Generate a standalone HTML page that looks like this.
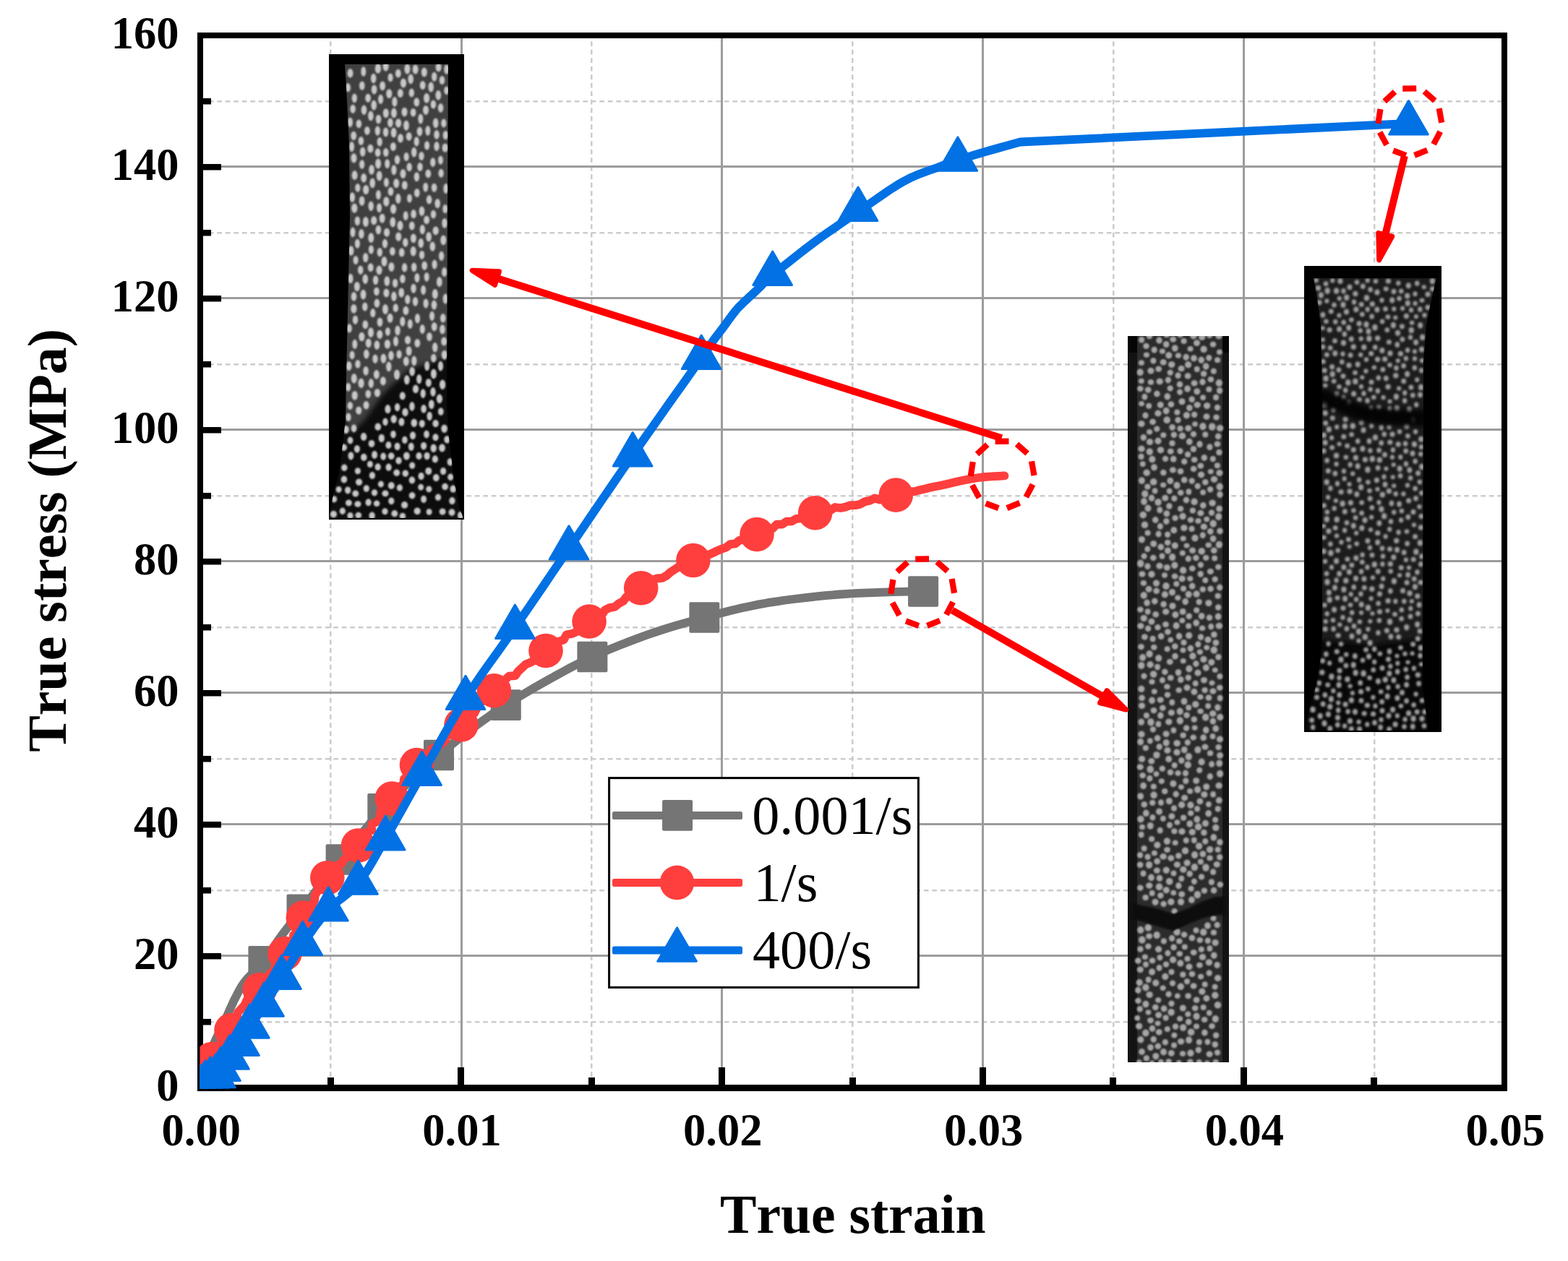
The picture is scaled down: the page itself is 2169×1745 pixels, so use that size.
<!DOCTYPE html>
<html lang="en"><head><meta charset="utf-8"><title>True stress - true strain</title>
<style>html,body{margin:0;padding:0;background:#fff}body{width:2169px;height:1745px;overflow:hidden}svg{display:block}text{font-family:"Liberation Serif",serif;font-kerning:none}</style>
</head><body>
<svg width="2169" height="1745" viewBox="0 0 2169 1745" role="img" aria-label="True stress versus true strain at three strain rates">
<defs>
<clipPath id="plot"><rect x="276.5" y="48.5" width="1805" height="1458"/></clipPath>
<filter id="b1" x="-5%" y="-5%" width="110%" height="110%"><feGaussianBlur stdDeviation="1.1"/></filter>
<filter id="b2" x="-5%" y="-5%" width="110%" height="110%"><feGaussianBlur stdDeviation="0.8"/></filter>
<filter id="b3" x="-5%" y="-5%" width="110%" height="110%"><feGaussianBlur stdDeviation="1.4"/></filter>
<filter id="b4" x="-20%" y="-50%" width="140%" height="200%"><feGaussianBlur stdDeviation="3.5"/></filter>
</defs>
<rect width="2169" height="1745" fill="#fff"/>
<g fill="none" stroke="#cccccc" stroke-width="2.5" stroke-dasharray="6.7 4.8">
<line x1="277.3" y1="1414.25" x2="2081.0" y2="1414.25"/>
<line x1="277.3" y1="1232.25" x2="2081.0" y2="1232.25"/>
<line x1="277.3" y1="1050.25" x2="2081.0" y2="1050.25"/>
<line x1="277.3" y1="868.25" x2="2081.0" y2="868.25"/>
<line x1="277.3" y1="686.25" x2="2081.0" y2="686.25"/>
<line x1="277.3" y1="504.25" x2="2081.0" y2="504.25"/>
<line x1="277.3" y1="322.25" x2="2081.0" y2="322.25"/>
<line x1="277.3" y1="140.25" x2="2081.0" y2="140.25"/>
<line x1="457.25" y1="45.7" x2="457.25" y2="1505.0"/>
<line x1="818.25" y1="45.7" x2="818.25" y2="1505.0"/>
<line x1="1179.25" y1="45.7" x2="1179.25" y2="1505.0"/>
<line x1="1540.25" y1="45.7" x2="1540.25" y2="1505.0"/>
<line x1="1901.25" y1="45.7" x2="1901.25" y2="1505.0"/>
</g>
<g fill="none" stroke="#9c9c9c" stroke-width="3" shape-rendering="crispEdges">
<line x1="277.0" y1="1322.5" x2="2081.0" y2="1322.5"/>
<line x1="277.0" y1="1140.5" x2="2081.0" y2="1140.5"/>
<line x1="277.0" y1="958.5" x2="2081.0" y2="958.5"/>
<line x1="277.0" y1="776.5" x2="2081.0" y2="776.5"/>
<line x1="277.0" y1="594.5" x2="2081.0" y2="594.5"/>
<line x1="277.0" y1="412.5" x2="2081.0" y2="412.5"/>
<line x1="277.0" y1="230.5" x2="2081.0" y2="230.5"/>
<line x1="638.5" y1="49.0" x2="638.5" y2="1505.0"/>
<line x1="998.5" y1="49.0" x2="998.5" y2="1505.0"/>
<line x1="1359.5" y1="49.0" x2="1359.5" y2="1505.0"/>
<line x1="1720.5" y1="49.0" x2="1720.5" y2="1505.0"/>
</g>
<g fill="none" stroke="#000" stroke-width="8">
<path d="M277.0 1505.5 V49.0 H2081.0 V1505.5"/>
<line x1="277.0" y1="1414.2" x2="292.0" y2="1414.2" stroke-width="8.5"/>
<line x1="277.0" y1="1323.2" x2="306.0" y2="1323.2" stroke-width="8.5"/>
<line x1="277.0" y1="1232.2" x2="292.0" y2="1232.2" stroke-width="8.5"/>
<line x1="277.0" y1="1141.2" x2="306.0" y2="1141.2" stroke-width="8.5"/>
<line x1="277.0" y1="1050.2" x2="292.0" y2="1050.2" stroke-width="8.5"/>
<line x1="277.0" y1="959.2" x2="306.0" y2="959.2" stroke-width="8.5"/>
<line x1="277.0" y1="868.2" x2="292.0" y2="868.2" stroke-width="8.5"/>
<line x1="277.0" y1="777.2" x2="306.0" y2="777.2" stroke-width="8.5"/>
<line x1="277.0" y1="686.2" x2="292.0" y2="686.2" stroke-width="8.5"/>
<line x1="277.0" y1="595.2" x2="306.0" y2="595.2" stroke-width="8.5"/>
<line x1="277.0" y1="504.2" x2="292.0" y2="504.2" stroke-width="8.5"/>
<line x1="277.0" y1="413.2" x2="306.0" y2="413.2" stroke-width="8.5"/>
<line x1="277.0" y1="322.2" x2="292.0" y2="322.2" stroke-width="8.5"/>
<line x1="277.0" y1="231.2" x2="306.0" y2="231.2" stroke-width="8.5"/>
<line x1="277.0" y1="140.2" x2="292.0" y2="140.2" stroke-width="8.5"/>
</g>
<g fill="#000">
<rect x="273" y="1501" width="1812" height="9"/>
<rect x="453.0" y="1491.0" width="9" height="14.0"/>
<rect x="633.0" y="1477.0" width="9" height="28.0"/>
<rect x="814.0" y="1491.0" width="9" height="14.0"/>
<rect x="994.0" y="1477.0" width="9" height="28.0"/>
<rect x="1175.0" y="1491.0" width="9" height="14.0"/>
<rect x="1355.0" y="1477.0" width="9" height="28.0"/>
<rect x="1535.0" y="1491.0" width="9" height="14.0"/>
<rect x="1716.0" y="1477.0" width="9" height="28.0"/>
<rect x="1896.0" y="1491.0" width="9" height="14.0"/>
</g>
<g clip-path="url(#plot)">
<path d="M277.0 1505.0 L278.4 1499.3 L279.8 1493.4 L281.1 1487.6 L282.5 1481.8 L284.0 1476.3 L285.5 1471.0 L287.1 1466.2 L288.6 1461.8 L290.2 1457.6 L292.0 1453.3 L293.9 1448.9 L296.0 1444.0 L298.4 1438.5 L301.2 1432.7 L304.1 1426.6 L307.0 1420.4 L309.9 1414.5 L312.5 1409.0 L314.9 1403.9 L317.1 1399.0 L319.2 1394.2 L321.3 1389.7 L323.3 1385.3 L325.5 1381.0 L327.6 1376.9 L329.5 1373.1 L331.5 1369.5 L333.6 1365.8 L336.1 1362.0 L339.0 1358.0 L342.5 1353.8 L346.6 1349.5 L350.9 1345.0 L355.5 1340.4 L360.0 1335.6 L364.4 1330.4 L368.6 1324.8 L372.8 1318.9 L377.1 1312.7 L381.3 1306.4 L385.6 1300.1 L390.0 1294.0 L394.5 1288.0 L399.1 1282.1 L403.7 1276.2 L408.3 1270.4 L413.0 1264.5 L417.5 1258.7 L422.0 1252.9 L426.4 1247.1 L430.7 1241.3 L435.1 1235.5 L439.5 1229.8 L444.0 1224.0 L448.5 1218.2 L453.1 1212.5 L457.7 1206.8 L462.3 1201.1 L466.9 1195.3 L471.6 1189.5 L476.3 1183.6 L481.0 1177.7 L485.7 1171.8 L490.4 1165.8 L495.2 1159.9 L500.0 1154.0 L504.7 1148.2 L509.4 1142.5 L514.1 1136.8 L518.9 1131.1 L523.9 1125.3 L529.3 1119.3 L535.1 1113.1 L541.2 1106.7 L547.5 1100.2 L554.0 1093.7 L560.5 1087.3 L567.0 1081.0 L573.5 1074.9 L580.0 1068.8 L586.5 1062.9 L593.2 1056.9 L600.0 1051.0 L607.0 1045.0 L614.2 1039.0 L621.5 1032.9 L629.0 1026.8 L636.6 1020.8 L644.3 1014.8 L652.0 1009.0 L659.7 1003.3 L667.3 997.7 L675.1 992.2 L683.0 986.7 L691.2 981.2 L699.8 975.6 L708.9 969.9 L718.3 964.1 L728.0 958.2 L738.0 952.4 L748.0 946.6 L758.0 941.0 L767.9 935.5 L777.7 930.1 L787.5 924.8 L797.7 919.5 L808.2 914.2 L819.4 909.0 L831.3 903.7 L843.7 898.4 L856.6 893.1 L869.8 888.0 L883.0 883.0 L896.0 878.3 L909.0 873.9 L922.1 869.6 L935.3 865.6 L948.4 861.8 L961.5 858.1 L974.4 854.5 L987.2 851.1 L999.9 847.7 L1012.5 844.6 L1025.0 841.6 L1037.4 838.9 L1049.7 836.4 L1061.9 834.2 L1074.2 832.3 L1086.3 830.5 L1098.2 829.0 L1109.8 827.6 L1121.0 826.3 L1131.6 825.1 L1141.5 824.1 L1151.1 823.3 L1160.8 822.5 L1170.8 821.8 L1181.6 821.2 L1193.8 820.6 L1207.4 820.1 L1221.4 819.6 L1234.8 819.2 L1246.7 818.9 L1256.2 818.6 L1262.8 818.4 L1267.1 818.4 L1270.0 818.4 L1272.1 818.4 L1274.2 818.5 L1277.1 818.5" fill="none" stroke="#757575" stroke-width="11.8" stroke-linejoin="round" stroke-linecap="round"/>
<g fill="#757575">
<rect x="343.4" y="1309.1" width="42" height="42.6" rx="2"/>
<rect x="396.5" y="1237.4" width="42" height="42.6" rx="2"/>
<rect x="450.6" y="1168.2" width="42" height="42.6" rx="2"/>
<rect x="508.3" y="1098.0" width="42" height="42.6" rx="2"/>
<rect x="586.0" y="1023.7" width="42" height="42.6" rx="2"/>
<rect x="678.8" y="954.3" width="42" height="42.6" rx="2"/>
<rect x="798.4" y="887.7" width="42" height="42.6" rx="2"/>
<rect x="953.4" y="833.2" width="42" height="42.6" rx="2"/>
<rect x="1256.1" y="797.2" width="42" height="42.6" rx="2"/>
</g>
<path d="M277.0 1500.0 L279.8 1493.6 L282.6 1487.2 L285.9 1481.0 L289.4 1474.9 L292.9 1468.9 L297.0 1463.3 L299.9 1457.0 L304.7 1451.8 L304.9 1443.4 L310.8 1439.0 L316.9 1434.6 L319.4 1427.9 L324.0 1422.4 L323.1 1414.2 L327.2 1408.3 L328.9 1401.3 L333.8 1396.0 L338.4 1390.8 L341.5 1383.8 L347.4 1380.0 L352.5 1375.3 L359.7 1372.3 L363.5 1366.3 L365.2 1358.8 L372.0 1355.1 L373.2 1347.4 L379.3 1343.1 L381.1 1335.9 L384.4 1329.7 L392.0 1326.2 L392.7 1318.5 L396.2 1312.5 L403.1 1308.1 L405.7 1301.6 L406.0 1294.0 L412.2 1289.2 L413.3 1281.9 L417.1 1276.1 L418.3 1268.7 L425.0 1264.5 L427.3 1257.7 L431.9 1252.3 L435.0 1246.0 L435.9 1238.4 L439.8 1232.6 L442.7 1226.1 L446.5 1220.2 L450.3 1214.3 L455.7 1209.5 L461.6 1205.3 L464.3 1198.1 L471.8 1195.7 L475.6 1189.6 L480.6 1184.7 L487.4 1181.5 L490.9 1175.2 L494.8 1169.4 L499.8 1164.4 L504.9 1159.5 L506.4 1151.9 L514.3 1149.0 L514.3 1140.4 L521.5 1136.9 L525.9 1131.4 L526.3 1123.2 L533.6 1119.8 L535.8 1112.8 L540.8 1107.7 L542.4 1100.3 L546.5 1094.7 L551.0 1089.3 L558.2 1085.7 L558.9 1077.7 L565.4 1073.7 L570.4 1068.9 L574.9 1063.7 L577.4 1056.4 L582.4 1051.5 L588.1 1047.3 L594.2 1043.6 L597.1 1036.3 L604.6 1034.2 L610.0 1029.9 L615.5 1025.5 L618.0 1017.7 L626.4 1016.7 L628.7 1008.7 L634.7 1004.9 L640.7 1001.1 L646.8 997.2 L649.4 990.1 L656.3 986.9 L659.5 980.3 L663.3 974.3 L668.1 969.2 L672.5 963.6 L677.2 958.4 L682.7 953.9 L689.9 951.5 L696.2 948.3 L699.0 940.5 L704.1 935.7 L712.6 935.2 L716.7 929.1 L721.9 924.3 L727.0 919.4 L733.7 916.7 L740.0 913.5 L744.5 907.8 L750.1 903.6 L754.6 897.9 L762.9 897.5 L766.0 889.7 L773.1 887.7 L779.9 885.2 L783.7 878.3 L791.3 877.0 L797.7 874.1 L802.7 868.9 L809.0 865.8 L812.9 859.0 L819.7 856.5 L824.7 851.4 L832.5 850.6 L836.8 844.3 L843.1 841.1 L850.5 839.7 L855.9 835.2 L862.1 831.9 L866.6 825.9 L872.6 822.3 L879.2 819.7 L884.5 815.0 L890.1 810.6 L896.4 807.6 L901.8 802.9 L908.5 800.5 L916.2 799.9 L922.2 796.5 L927.6 791.7 L933.5 787.9 L939.4 784.0 L945.1 779.7 L951.8 777.5 L959.3 776.9 L965.8 774.5 L971.2 769.2 L978.5 768.5 L984.9 765.7 L991.2 762.6 L997.6 759.8 L1004.3 757.7 L1010.0 753.2 L1017.2 752.3 L1022.9 747.7 L1029.8 746.1 L1036.9 745.0 L1043.2 742.0 L1049.0 737.6 L1056.7 738.1 L1062.7 734.1 L1069.0 731.1 L1074.4 725.7 L1081.9 725.7 L1087.9 721.7 L1095.2 721.3 L1101.4 717.9 L1108.6 717.4 L1115.0 714.3 L1121.9 713.0 L1128.0 708.8 L1135.1 708.5 L1142.0 707.2 L1148.9 706.0 L1155.2 702.0 L1162.5 703.0 L1169.4 701.6 L1176.0 699.2 L1183.2 699.2 L1190.0 697.7 L1196.4 694.1 L1203.3 692.7 L1209.8 689.5 L1217.3 691.5 L1224.3 690.6 L1230.7 686.8 L1237.7 686.3 L1244.6 684.8 L1251.4 683.3 L1257.9 680.1 L1265.0 680.1 L1271.8 678.2 L1278.6 676.7 L1285.4 675.1 L1292.3 673.6 L1299.1 672.2 L1306.0 670.7 L1312.8 669.2 L1319.6 667.6 L1326.4 666.1 L1333.3 664.6 L1340.1 663.2 L1347.0 662.0 L1354.0 661.0 L1360.9 660.2 L1367.9 659.6 L1374.9 659.2 L1381.9 658.8 L1388.8 658.3 L1389.5 658.3" fill="none" stroke="#fe3f3e" stroke-width="11.8" stroke-linejoin="round" stroke-linecap="round"/>
<g fill="#fe3f3e">
<circle cx="277.0" cy="1497.0" r="23.8"/>
<circle cx="293.0" cy="1465.5" r="23.8"/>
<circle cx="320.0" cy="1425.5" r="23.8"/>
<circle cx="359.2" cy="1369.5" r="23.8"/>
<circle cx="393.9" cy="1319.5" r="23.8"/>
<circle cx="419.3" cy="1270.0" r="23.8"/>
<circle cx="452.8" cy="1214.7" r="23.8"/>
<circle cx="495.5" cy="1170.0" r="23.8"/>
<circle cx="542.2" cy="1105.0" r="23.8"/>
<circle cx="576.5" cy="1058.5" r="23.8"/>
<circle cx="638.0" cy="1003.0" r="23.8"/>
<circle cx="683.4" cy="955.7" r="23.8"/>
<circle cx="755.0" cy="900.5" r="23.8"/>
<circle cx="815.1" cy="860.0" r="23.8"/>
<circle cx="886.7" cy="813.8" r="23.8"/>
<circle cx="958.9" cy="775.5" r="23.8"/>
<circle cx="1047.0" cy="739.5" r="23.8"/>
<circle cx="1127.7" cy="709.7" r="23.8"/>
<circle cx="1239.3" cy="685.1" r="23.8"/>
</g>
<path d="M277.0 1505.0 L278.2 1504.0 L279.3 1503.0 L280.5 1501.9 L281.7 1500.9 L282.8 1499.9 L284.0 1499.0 L285.2 1498.1 L286.3 1497.2 L287.5 1496.4 L288.6 1495.6 L289.8 1494.8 L291.0 1494.0 L292.2 1493.3 L293.5 1492.8 L294.8 1492.3 L296.0 1491.7 L297.3 1491.0 L298.5 1490.0 L299.6 1488.8 L300.7 1487.5 L301.7 1486.0 L302.8 1484.4 L304.0 1482.5 L305.5 1480.5 L307.2 1478.2 L309.1 1475.7 L311.1 1472.9 L313.2 1470.1 L315.3 1467.1 L317.5 1464.2 L319.7 1461.3 L322.0 1458.3 L324.4 1455.3 L326.8 1452.2 L329.1 1448.9 L331.5 1445.4 L333.8 1441.7 L335.9 1437.9 L338.1 1434.0 L340.3 1429.9 L342.7 1425.6 L345.4 1421.2 L348.3 1416.6 L351.5 1411.9 L354.8 1407.1 L358.3 1402.0 L361.9 1396.7 L365.5 1391.2 L369.2 1385.5 L373.0 1379.5 L376.9 1373.4 L381.0 1367.0 L385.2 1360.3 L389.5 1353.4 L394.0 1346.1 L398.6 1338.5 L403.4 1330.6 L408.3 1322.5 L413.4 1314.5 L418.7 1306.5 L424.2 1298.5 L429.9 1290.3 L435.7 1282.1 L441.8 1274.1 L448.0 1266.3 L454.3 1259.0 L460.9 1252.5 L467.7 1246.9 L474.8 1241.5 L481.8 1235.9 L488.8 1229.6 L495.5 1222.2 L501.8 1213.7 L507.9 1204.6 L513.8 1194.8 L519.8 1184.3 L526.2 1172.9 L533.2 1160.8 L540.7 1147.7 L548.7 1133.6 L557.0 1118.8 L565.6 1103.4 L574.5 1087.5 L583.6 1071.4 L593.0 1054.7 L602.7 1037.3 L612.7 1019.5 L622.9 1001.5 L633.4 983.8 L644.0 966.5 L654.9 949.9 L666.0 933.7 L677.3 917.7 L688.8 901.7 L700.5 885.3 L712.4 868.4 L724.3 851.0 L736.3 833.5 L748.5 815.6 L760.9 797.3 L773.7 778.5 L787.0 759.0 L800.8 738.7 L815.1 717.6 L829.8 696.0 L844.8 674.1 L859.9 652.0 L875.2 629.9 L891.6 606.5 L909.3 581.3 L927.2 555.9 L944.2 532.1 L958.9 511.3 L970.2 495.3 L977.4 485.0 L981.2 479.4 L982.9 476.9 L983.4 476.0 L984.0 475.1 L985.6 472.8 L988.1 469.3 L990.7 465.9 L993.2 462.6 L995.7 459.3 L998.3 455.9 L1001.0 452.3 L1003.8 448.5 L1006.7 444.4 L1009.7 440.3 L1012.7 436.3 L1015.6 432.4 L1018.4 429.0 L1021.0 426.0 L1023.6 423.3 L1026.1 420.9 L1028.5 418.6 L1031.0 416.2 L1033.6 413.8 L1036.2 411.3 L1038.9 408.8 L1041.6 406.3 L1044.3 403.8 L1047.1 401.2 L1050.0 398.5 L1052.5 396.0 L1054.6 393.8 L1056.8 391.5 L1059.6 388.7 L1063.3 385.3 L1068.7 380.7 L1075.9 374.8 L1084.7 367.7 L1094.5 359.8 L1104.9 351.6 L1115.4 343.5 L1125.6 335.8 L1135.5 328.5 L1145.6 321.4 L1155.9 314.3 L1166.2 307.2 L1176.6 300.1 L1187.0 293.0 L1197.7 285.6 L1208.7 278.0 L1219.7 270.3 L1230.6 262.9 L1241.1 256.2 L1251.0 250.4 L1260.5 245.6 L1269.7 241.6 L1278.6 238.2 L1286.9 235.3 L1294.4 232.7 L1301.1 230.3 L1306.3 228.2 L1310.2 226.7 L1313.3 225.5 L1316.4 224.4 L1320.0 223.1 L1324.9 221.5 L1331.2 219.5 L1338.5 217.3 L1346.3 214.9 L1354.5 212.5 L1362.5 210.2 L1370.0 208.0 L1377.1 206.0 L1384.1 204.0 L1390.9 202.1 L1397.7 200.3 L1404.5 198.4 L1411.4 196.5 L1948.5 170.9" fill="none" stroke="#0171e4" stroke-width="11.8" stroke-linejoin="round" stroke-linecap="round"/>
<g fill="#0171e4" stroke="#0171e4" stroke-width="3" stroke-linejoin="round">
<path d="M277.0 1473.7 L303.8 1520.1 L250.2 1520.1 Z"/>
<path d="M284.0 1467.7 L310.8 1514.1 L257.2 1514.1 Z"/>
<path d="M291.0 1462.7 L317.8 1509.1 L264.2 1509.1 Z"/>
<path d="M298.5 1458.7 L325.3 1505.1 L271.7 1505.1 Z"/>
<path d="M305.5 1449.2 L332.3 1495.6 L278.7 1495.6 Z"/>
<path d="M317.5 1432.9 L344.3 1479.3 L290.7 1479.3 Z"/>
<path d="M331.5 1414.1 L358.3 1460.5 L304.7 1460.5 Z"/>
<path d="M345.4 1389.9 L372.2 1436.3 L318.6 1436.3 Z"/>
<path d="M365.5 1359.9 L392.3 1406.3 L338.7 1406.3 Z"/>
<path d="M389.5 1322.1 L416.3 1368.5 L362.7 1368.5 Z"/>
<path d="M418.7 1275.2 L445.5 1321.6 L391.9 1321.6 Z"/>
<path d="M454.3 1227.7 L481.1 1274.1 L427.5 1274.1 Z"/>
<path d="M495.5 1190.9 L522.3 1237.3 L468.7 1237.3 Z"/>
<path d="M533.2 1129.5 L560.0 1175.9 L506.4 1175.9 Z"/>
<path d="M583.6 1040.1 L610.4 1086.5 L556.8 1086.5 Z"/>
<path d="M644.0 935.2 L670.8 981.6 L617.2 981.6 Z"/>
<path d="M712.4 837.1 L739.2 883.5 L685.6 883.5 Z"/>
<path d="M787.0 727.7 L813.8 774.1 L760.2 774.1 Z"/>
<path d="M875.2 598.6 L902.0 645.0 L848.4 645.0 Z"/>
<path d="M970.2 464.0 L997.0 510.4 L943.4 510.4 Z"/>
<path d="M1068.7 348.1 L1095.5 394.5 L1041.9 394.5 Z"/>
<path d="M1187.0 259.1 L1213.8 305.5 L1160.2 305.5 Z"/>
<path d="M1324.9 189.9 L1351.7 236.3 L1298.1 236.3 Z"/>
<path d="M1948.5 139.6 L1975.3 186.0 L1921.7 186.0 Z"/>
</g>
</g>
<rect x="842.6" y="1076.6" width="427.8" height="289.8" fill="#fff" stroke="#000" stroke-width="3"/>
<rect x="847" y="1123.0" width="180" height="11" rx="2.6" fill="#757575"/>
<rect x="847" y="1215.9" width="180" height="11" rx="2.6" fill="#fe3f3e"/>
<rect x="847" y="1309.5" width="180" height="11" rx="2.6" fill="#0171e4"/>
<rect x="916.1" y="1107.1" width="42" height="42.6" rx="2" fill="#757575"/>
<circle cx="936.5" cy="1221.4" r="23.8" fill="#fe3f3e"/>
<g fill="#0171e4" stroke="#0171e4" stroke-width="3" stroke-linejoin="round"><path d="M936.6 1283.9 L963.4 1330.3 L909.8 1330.3 Z"/></g>
<g font-size="76.2" fill="#000">
<text x="1040.2" y="1153.8">0.001/s</text>
<text x="1042.5" y="1247.3">1/s</text>
<text x="1041" y="1339.7">400/s</text>
</g>
<clipPath id="c1"><polygon points="477.0,89.0 479.0,120.0 483.0,200.0 484.0,300.0 479.0,520.0 478.0,580.0 474.0,615.0 469.0,654.0 461.0,684.0 455.0,717.0 641.0,717.0 636.0,704.0 628.0,664.0 621.0,605.0 618.0,560.0 619.0,300.0 620.0,89.0"/></clipPath>
<g>
<rect x="455" y="75" width="187" height="644" fill="#000"/>
<g clip-path="url(#c1)">
<rect x="455" y="89" width="187" height="628" fill="#0d0d0d"/>
<polygon points="470,80 630,80 630,490 600,500 565,512 530,545 505,580 485,600 470,560" fill="#404040" filter="url(#b4)"/>
<g fill="#c8c8c8" filter="url(#b1)">
<ellipse cx="539.6" cy="440.2" rx="4.0" ry="6.5"/>
<ellipse cx="550.0" cy="457.4" rx="3.7" ry="6.8"/>
<ellipse cx="489.5" cy="410.4" rx="3.8" ry="6.3"/>
<ellipse cx="572.8" cy="585.2" rx="4.3" ry="5.8"/>
<ellipse cx="584.7" cy="118.0" rx="4.0" ry="5.9"/>
<ellipse cx="577.3" cy="474.9" rx="4.0" ry="5.9"/>
<ellipse cx="484.5" cy="101.3" rx="4.0" ry="6.2"/>
<ellipse cx="553.8" cy="129.0" rx="4.0" ry="6.0"/>
<ellipse cx="490.6" cy="242.5" rx="4.0" ry="6.5"/>
<ellipse cx="537.4" cy="616.0" rx="4.0" ry="5.1"/>
<ellipse cx="552.1" cy="490.3" rx="3.6" ry="5.9"/>
<ellipse cx="540.5" cy="265.0" rx="3.9" ry="6.1"/>
<ellipse cx="612.1" cy="532.3" rx="4.1" ry="6.8"/>
<ellipse cx="514.0" cy="234.9" rx="3.8" ry="6.8"/>
<ellipse cx="509.1" cy="135.7" rx="3.9" ry="6.0"/>
<ellipse cx="598.3" cy="341.0" rx="3.8" ry="6.6"/>
<ellipse cx="613.3" cy="332.4" rx="4.0" ry="6.8"/>
<ellipse cx="600.6" cy="259.8" rx="3.8" ry="6.1"/>
<ellipse cx="604.0" cy="202.5" rx="3.7" ry="6.4"/>
<ellipse cx="559.6" cy="370.3" rx="3.7" ry="6.2"/>
<ellipse cx="490.7" cy="547.2" rx="4.1" ry="6.3"/>
<ellipse cx="494.8" cy="259.8" rx="3.6" ry="5.9"/>
<ellipse cx="511.9" cy="642.4" rx="4.0" ry="4.7"/>
<ellipse cx="494.4" cy="337.2" rx="3.5" ry="6.5"/>
<ellipse cx="614.8" cy="491.2" rx="4.0" ry="6.5"/>
<ellipse cx="473.8" cy="707.3" rx="4.1" ry="4.7"/>
<ellipse cx="599.5" cy="296.6" rx="3.7" ry="5.9"/>
<ellipse cx="500.4" cy="466.0" rx="4.1" ry="6.3"/>
<ellipse cx="524.5" cy="373.9" rx="4.1" ry="6.3"/>
<ellipse cx="562.4" cy="631.0" rx="4.4" ry="5.5"/>
<ellipse cx="489.2" cy="187.9" rx="3.9" ry="6.2"/>
<ellipse cx="501.7" cy="210.1" rx="3.8" ry="6.6"/>
<ellipse cx="593.3" cy="676.9" rx="4.1" ry="4.3"/>
<ellipse cx="491.8" cy="683.0" rx="4.5" ry="4.5"/>
<ellipse cx="533.8" cy="156.6" rx="4.0" ry="6.4"/>
<ellipse cx="462.2" cy="690.8" rx="4.0" ry="4.6"/>
<ellipse cx="499.6" cy="530.2" rx="4.1" ry="6.7"/>
<ellipse cx="503.1" cy="604.4" rx="4.2" ry="5.6"/>
<ellipse cx="566.5" cy="274.5" rx="3.5" ry="6.0"/>
<ellipse cx="538.3" cy="129.6" rx="4.1" ry="6.4"/>
<ellipse cx="488.0" cy="321.4" rx="3.5" ry="6.8"/>
<ellipse cx="562.0" cy="173.8" rx="3.9" ry="7.0"/>
<ellipse cx="522.7" cy="646.2" rx="4.1" ry="4.9"/>
<ellipse cx="584.3" cy="455.5" rx="3.6" ry="6.4"/>
<ellipse cx="586.1" cy="690.8" rx="4.0" ry="5.1"/>
<ellipse cx="514.6" cy="713.6" rx="4.2" ry="5.0"/>
<ellipse cx="592.8" cy="651.9" rx="4.5" ry="5.2"/>
<ellipse cx="592.8" cy="529.7" rx="4.0" ry="5.8"/>
<ellipse cx="603.3" cy="661.1" rx="4.4" ry="5.1"/>
<ellipse cx="520.8" cy="518.2" rx="3.9" ry="6.3"/>
<ellipse cx="533.0" cy="583.7" rx="3.7" ry="5.2"/>
<ellipse cx="571.9" cy="329.8" rx="4.0" ry="6.3"/>
<ellipse cx="564.0" cy="470.7" rx="4.1" ry="5.9"/>
<ellipse cx="544.9" cy="235.2" rx="3.6" ry="7.0"/>
<ellipse cx="585.6" cy="401.3" rx="3.5" ry="6.6"/>
<ellipse cx="569.9" cy="664.5" rx="4.2" ry="5.0"/>
<ellipse cx="502.8" cy="99.0" rx="3.5" ry="6.8"/>
<ellipse cx="537.6" cy="646.7" rx="4.1" ry="5.1"/>
<ellipse cx="492.1" cy="360.0" rx="3.6" ry="5.9"/>
<ellipse cx="611.5" cy="619.9" rx="4.4" ry="5.6"/>
<ellipse cx="572.0" cy="399.2" rx="3.7" ry="6.5"/>
<ellipse cx="514.0" cy="613.9" rx="4.3" ry="5.0"/>
<ellipse cx="540.1" cy="107.4" rx="3.6" ry="5.8"/>
<ellipse cx="610.1" cy="239.7" rx="3.7" ry="6.0"/>
<ellipse cx="481.3" cy="121.2" rx="3.7" ry="6.1"/>
<ellipse cx="572.7" cy="369.7" rx="3.7" ry="6.3"/>
<ellipse cx="572.8" cy="499.4" rx="3.6" ry="6.9"/>
<ellipse cx="606.0" cy="688.2" rx="4.1" ry="4.6"/>
<ellipse cx="583.0" cy="216.0" rx="3.7" ry="6.1"/>
<ellipse cx="543.9" cy="203.1" rx="4.0" ry="6.0"/>
<ellipse cx="505.9" cy="307.0" rx="4.0" ry="7.0"/>
<ellipse cx="569.9" cy="562.4" rx="3.7" ry="6.3"/>
<ellipse cx="525.5" cy="445.8" rx="3.9" ry="6.3"/>
<ellipse cx="590.0" cy="601.0" rx="3.9" ry="5.4"/>
<ellipse cx="575.0" cy="538.4" rx="4.1" ry="5.8"/>
<ellipse cx="494.9" cy="651.8" rx="4.1" ry="4.5"/>
<ellipse cx="555.4" cy="583.9" rx="4.0" ry="5.7"/>
<ellipse cx="514.9" cy="658.0" rx="4.1" ry="5.0"/>
<ellipse cx="615.0" cy="308.8" rx="3.7" ry="6.9"/>
<ellipse cx="606.3" cy="131.8" rx="3.9" ry="6.7"/>
<ellipse cx="509.3" cy="545.3" rx="3.8" ry="5.7"/>
<ellipse cx="574.5" cy="417.2" rx="3.7" ry="6.3"/>
<ellipse cx="612.8" cy="440.3" rx="3.8" ry="6.2"/>
<ellipse cx="513.3" cy="329.1" rx="4.0" ry="6.9"/>
<ellipse cx="613.1" cy="652.1" rx="4.1" ry="5.0"/>
<ellipse cx="493.9" cy="621.2" rx="4.0" ry="5.2"/>
<ellipse cx="562.1" cy="217.0" rx="3.6" ry="6.0"/>
<ellipse cx="555.2" cy="405.0" rx="3.9" ry="6.6"/>
<ellipse cx="568.2" cy="109.3" rx="3.8" ry="6.9"/>
<ellipse cx="555.7" cy="349.4" rx="3.9" ry="6.1"/>
<ellipse cx="505.3" cy="386.3" rx="3.8" ry="6.7"/>
<ellipse cx="544.1" cy="289.3" rx="4.1" ry="6.7"/>
<ellipse cx="490.8" cy="476.3" rx="3.5" ry="6.6"/>
<ellipse cx="600.7" cy="106.2" rx="3.6" ry="6.5"/>
<ellipse cx="583.5" cy="292.3" rx="3.8" ry="6.7"/>
<ellipse cx="521.4" cy="477.5" rx="3.8" ry="6.3"/>
<ellipse cx="525.3" cy="349.1" rx="3.7" ry="6.2"/>
<ellipse cx="554.0" cy="191.4" rx="3.9" ry="6.1"/>
<ellipse cx="614.2" cy="472.5" rx="4.0" ry="5.9"/>
<ellipse cx="495.8" cy="713.0" rx="4.4" ry="4.3"/>
<ellipse cx="503.5" cy="152.3" rx="3.8" ry="6.8"/>
<ellipse cx="610.6" cy="354.3" rx="3.6" ry="6.5"/>
<ellipse cx="602.7" cy="170.4" rx="3.8" ry="6.9"/>
<ellipse cx="582.6" cy="658.9" rx="4.1" ry="5.2"/>
<ellipse cx="549.6" cy="563.6" rx="3.7" ry="5.6"/>
<ellipse cx="549.0" cy="518.5" rx="4.0" ry="6.9"/>
<ellipse cx="490.3" cy="135.9" rx="3.6" ry="6.3"/>
<ellipse cx="489.5" cy="218.8" rx="4.1" ry="6.6"/>
<ellipse cx="612.1" cy="708.0" rx="4.5" ry="4.5"/>
<ellipse cx="586.1" cy="617.1" rx="4.1" ry="5.3"/>
<ellipse cx="550.8" cy="101.6" rx="3.9" ry="5.8"/>
<ellipse cx="594.2" cy="575.9" rx="3.7" ry="6.1"/>
<ellipse cx="622.7" cy="639.3" rx="4.1" ry="5.2"/>
<ellipse cx="590.1" cy="135.9" rx="4.1" ry="6.8"/>
<ellipse cx="586.1" cy="565.8" rx="3.9" ry="5.8"/>
<ellipse cx="484.9" cy="385.4" rx="3.6" ry="6.7"/>
<ellipse cx="569.3" cy="128.4" rx="3.7" ry="6.0"/>
<ellipse cx="523.4" cy="269.7" rx="3.5" ry="6.6"/>
<ellipse cx="577.5" cy="440.7" rx="3.6" ry="6.8"/>
<ellipse cx="500.8" cy="118.6" rx="3.8" ry="6.1"/>
<ellipse cx="484.3" cy="561.4" rx="3.8" ry="5.5"/>
<ellipse cx="535.3" cy="389.1" rx="3.9" ry="6.9"/>
<ellipse cx="552.9" cy="675.0" rx="4.1" ry="4.7"/>
<ellipse cx="590.2" cy="383.3" rx="3.5" ry="6.4"/>
<ellipse cx="537.8" cy="507.4" rx="3.7" ry="6.9"/>
<ellipse cx="600.5" cy="422.1" rx="3.8" ry="6.5"/>
<ellipse cx="592.3" cy="240.3" rx="3.9" ry="5.9"/>
<ellipse cx="476.3" cy="647.3" rx="4.2" ry="4.7"/>
<ellipse cx="601.7" cy="480.7" rx="3.7" ry="6.8"/>
<ellipse cx="565.6" cy="485.8" rx="4.0" ry="6.5"/>
<ellipse cx="505.7" cy="356.5" rx="3.7" ry="6.6"/>
<ellipse cx="571.6" cy="155.7" rx="3.9" ry="5.8"/>
<ellipse cx="494.4" cy="305.8" rx="3.7" ry="6.3"/>
<ellipse cx="598.8" cy="224.6" rx="3.7" ry="6.3"/>
<ellipse cx="534.4" cy="252.5" rx="3.5" ry="6.4"/>
<ellipse cx="577.2" cy="707.3" rx="4.6" ry="4.9"/>
<ellipse cx="515.8" cy="433.2" rx="3.6" ry="6.1"/>
<ellipse cx="535.0" cy="321.7" rx="4.1" ry="6.0"/>
<ellipse cx="494.9" cy="503.8" rx="3.7" ry="5.8"/>
<ellipse cx="507.9" cy="180.9" rx="3.9" ry="5.9"/>
<ellipse cx="521.9" cy="543.6" rx="4.1" ry="5.7"/>
<ellipse cx="523.5" cy="165.0" rx="3.8" ry="6.3"/>
<ellipse cx="626.8" cy="676.6" rx="4.3" ry="5.1"/>
<ellipse cx="605.2" cy="281.6" rx="3.8" ry="6.5"/>
<ellipse cx="523.4" cy="318.0" rx="3.8" ry="6.3"/>
<ellipse cx="491.5" cy="442.7" rx="3.7" ry="6.2"/>
<ellipse cx="556.8" cy="445.0" rx="3.6" ry="6.8"/>
<ellipse cx="576.4" cy="244.7" rx="3.7" ry="6.5"/>
<ellipse cx="496.2" cy="568.0" rx="4.1" ry="5.5"/>
<ellipse cx="528.7" cy="302.1" rx="4.0" ry="6.4"/>
<ellipse cx="547.3" cy="426.2" rx="3.7" ry="5.9"/>
<ellipse cx="609.5" cy="506.7" rx="3.6" ry="6.9"/>
<ellipse cx="614.6" cy="593.3" rx="4.3" ry="5.7"/>
<ellipse cx="533.6" cy="182.9" rx="3.7" ry="6.4"/>
<ellipse cx="593.6" cy="708.4" rx="4.0" ry="4.4"/>
<ellipse cx="525.2" cy="196.3" rx="3.6" ry="6.3"/>
<ellipse cx="509.6" cy="695.2" rx="4.1" ry="5.0"/>
<ellipse cx="566.2" cy="231.3" rx="3.7" ry="6.0"/>
<ellipse cx="607.8" cy="390.2" rx="3.9" ry="6.9"/>
<ellipse cx="515.2" cy="253.4" rx="3.8" ry="6.8"/>
<ellipse cx="504.8" cy="424.5" rx="3.7" ry="6.0"/>
<ellipse cx="589.0" cy="152.4" rx="4.0" ry="6.5"/>
<ellipse cx="609.5" cy="221.6" rx="3.5" ry="6.2"/>
<ellipse cx="484.5" cy="609.5" rx="3.9" ry="5.0"/>
<ellipse cx="513.2" cy="285.3" rx="3.7" ry="6.8"/>
<ellipse cx="541.3" cy="693.4" rx="4.1" ry="4.8"/>
<ellipse cx="609.6" cy="149.4" rx="3.8" ry="6.3"/>
<ellipse cx="484.4" cy="169.2" rx="3.6" ry="6.7"/>
<ellipse cx="529.9" cy="527.3" rx="4.0" ry="6.1"/>
<ellipse cx="519.0" cy="496.7" rx="3.7" ry="6.2"/>
<ellipse cx="520.9" cy="403.3" rx="3.9" ry="5.8"/>
<ellipse cx="481.5" cy="535.7" rx="3.8" ry="5.8"/>
<ellipse cx="562.8" cy="525.6" rx="3.9" ry="6.6"/>
<ellipse cx="559.8" cy="256.4" rx="3.9" ry="6.2"/>
<ellipse cx="625.0" cy="709.1" rx="4.5" ry="4.8"/>
<ellipse cx="561.2" cy="298.6" rx="3.5" ry="6.3"/>
<ellipse cx="580.5" cy="182.0" rx="3.9" ry="6.4"/>
<ellipse cx="542.9" cy="347.9" rx="3.9" ry="5.9"/>
<ellipse cx="596.8" cy="559.6" rx="3.9" ry="6.4"/>
<ellipse cx="545.8" cy="710.7" rx="4.5" ry="4.6"/>
<ellipse cx="531.5" cy="361.9" rx="4.0" ry="6.8"/>
<ellipse cx="560.8" cy="655.1" rx="4.3" ry="4.7"/>
<ellipse cx="625.4" cy="693.1" rx="4.2" ry="5.0"/>
<ellipse cx="579.5" cy="631.0" rx="4.2" ry="5.1"/>
<ellipse cx="500.6" cy="278.1" rx="3.9" ry="6.7"/>
<ellipse cx="506.8" cy="490.0" rx="3.8" ry="6.4"/>
<ellipse cx="526.9" cy="670.0" rx="4.1" ry="4.4"/>
<ellipse cx="549.6" cy="617.8" rx="4.0" ry="5.3"/>
<ellipse cx="561.4" cy="429.9" rx="4.0" ry="6.1"/>
<ellipse cx="523.1" cy="226.6" rx="4.0" ry="7.0"/>
<ellipse cx="461.4" cy="711.6" rx="4.6" ry="4.9"/>
<ellipse cx="541.3" cy="672.0" rx="4.5" ry="5.0"/>
<ellipse cx="512.7" cy="370.1" rx="4.0" ry="5.9"/>
<ellipse cx="526.6" cy="137.3" rx="3.6" ry="6.6"/>
<ellipse cx="584.3" cy="317.7" rx="3.7" ry="6.6"/>
<ellipse cx="588.7" cy="259.1" rx="3.5" ry="6.4"/>
<ellipse cx="590.7" cy="506.4" rx="3.5" ry="6.7"/>
<ellipse cx="483.2" cy="454.4" rx="3.6" ry="6.1"/>
<ellipse cx="570.1" cy="685.8" rx="4.4" ry="4.7"/>
<ellipse cx="559.9" cy="608.9" rx="3.8" ry="5.1"/>
<ellipse cx="551.1" cy="170.4" rx="4.1" ry="6.1"/>
<ellipse cx="485.4" cy="630.8" rx="3.9" ry="5.6"/>
<ellipse cx="617.7" cy="125.2" rx="3.5" ry="5.8"/>
<ellipse cx="502.5" cy="407.6" rx="3.9" ry="6.8"/>
<ellipse cx="583.6" cy="352.8" rx="3.7" ry="6.1"/>
<ellipse cx="516.7" cy="108.5" rx="3.8" ry="6.8"/>
<ellipse cx="506.8" cy="676.0" rx="4.1" ry="4.8"/>
<ellipse cx="590.6" cy="201.4" rx="3.6" ry="6.1"/>
<ellipse cx="609.8" cy="569.5" rx="3.9" ry="5.3"/>
<ellipse cx="506.1" cy="513.2" rx="3.7" ry="6.3"/>
<ellipse cx="570.2" cy="644.1" rx="4.0" ry="4.7"/>
<ellipse cx="567.3" cy="448.3" rx="3.5" ry="6.5"/>
<ellipse cx="530.2" cy="631.6" rx="3.9" ry="5.1"/>
<ellipse cx="604.0" cy="186.4" rx="3.8" ry="6.3"/>
<ellipse cx="594.0" cy="466.0" rx="3.9" ry="5.9"/>
<ellipse cx="550.8" cy="274.9" rx="3.7" ry="7.0"/>
<ellipse cx="475.9" cy="663.5" rx="4.3" ry="5.0"/>
<ellipse cx="548.7" cy="654.2" rx="4.5" ry="4.7"/>
<ellipse cx="524.6" cy="287.6" rx="3.5" ry="6.4"/>
<ellipse cx="563.4" cy="95.5" rx="4.0" ry="7.0"/>
<ellipse cx="601.1" cy="366.0" rx="3.6" ry="6.4"/>
<ellipse cx="535.9" cy="476.2" rx="4.1" ry="6.3"/>
<ellipse cx="559.6" cy="698.9" rx="4.6" ry="4.9"/>
<ellipse cx="498.7" cy="373.7" rx="3.8" ry="6.2"/>
<ellipse cx="553.5" cy="312.3" rx="4.0" ry="6.8"/>
<ellipse cx="545.9" cy="140.9" rx="3.6" ry="6.8"/>
<ellipse cx="615.6" cy="673.5" rx="4.4" ry="4.7"/>
<ellipse cx="500.7" cy="227.5" rx="3.6" ry="6.3"/>
<ellipse cx="532.5" cy="707.7" rx="4.1" ry="4.5"/>
<ellipse cx="544.0" cy="601.0" rx="3.8" ry="5.2"/>
<ellipse cx="512.4" cy="205.7" rx="4.1" ry="5.9"/>
<ellipse cx="533.0" cy="428.0" rx="4.0" ry="6.9"/>
<ellipse cx="551.2" cy="327.7" rx="4.1" ry="6.2"/>
<ellipse cx="505.3" cy="449.2" rx="3.9" ry="6.0"/>
<ellipse cx="546.6" cy="391.9" rx="3.7" ry="6.1"/>
<ellipse cx="489.8" cy="523.8" rx="4.0" ry="6.8"/>
<ellipse cx="601.9" cy="635.4" rx="4.1" ry="5.1"/>
<ellipse cx="521.4" cy="419.7" rx="3.9" ry="6.1"/>
<ellipse cx="597.6" cy="437.3" rx="3.5" ry="6.6"/>
<ellipse cx="530.4" cy="496.1" rx="3.9" ry="6.6"/>
<ellipse cx="571.7" cy="347.7" rx="4.1" ry="6.7"/>
<ellipse cx="593.6" cy="276.3" rx="3.8" ry="6.2"/>
<ellipse cx="579.7" cy="524.6" rx="3.6" ry="6.5"/>
<ellipse cx="513.0" cy="460.2" rx="4.0" ry="6.9"/>
<ellipse cx="616.2" cy="413.5" rx="3.6" ry="6.9"/>
<ellipse cx="536.4" cy="566.2" rx="4.0" ry="6.1"/>
<ellipse cx="559.5" cy="155.0" rx="4.0" ry="6.3"/>
<ellipse cx="481.9" cy="577.3" rx="3.7" ry="5.8"/>
<ellipse cx="576.9" cy="384.4" rx="3.5" ry="6.5"/>
<ellipse cx="585.2" cy="544.6" rx="3.6" ry="6.3"/>
<ellipse cx="521.1" cy="696.8" rx="4.3" ry="4.3"/>
<ellipse cx="478.6" cy="594.5" rx="4.2" ry="5.8"/>
<ellipse cx="602.5" cy="605.3" rx="4.1" ry="5.0"/>
<ellipse cx="490.3" cy="288.2" rx="4.1" ry="6.6"/>
<ellipse cx="541.0" cy="492.1" rx="3.8" ry="6.5"/>
<ellipse cx="482.4" cy="695.9" rx="4.5" ry="4.5"/>
<ellipse cx="569.8" cy="312.4" rx="3.9" ry="6.0"/>
<ellipse cx="522.9" cy="94.9" rx="4.1" ry="6.8"/>
<ellipse cx="589.1" cy="419.9" rx="3.6" ry="6.5"/>
<ellipse cx="581.8" cy="164.5" rx="3.5" ry="6.9"/>
<ellipse cx="607.9" cy="551.9" rx="4.1" ry="6.3"/>
<ellipse cx="614.6" cy="376.5" rx="3.6" ry="6.5"/>
<ellipse cx="612.0" cy="455.8" rx="3.9" ry="6.5"/>
<ellipse cx="503.3" cy="632.8" rx="4.3" ry="5.1"/>
<ellipse cx="499.9" cy="323.6" rx="3.8" ry="6.6"/>
<ellipse cx="496.4" cy="171.3" rx="3.8" ry="5.9"/>
<ellipse cx="482.6" cy="506.5" rx="4.0" ry="6.5"/>
<ellipse cx="601.8" cy="406.9" rx="4.0" ry="6.8"/>
<ellipse cx="527.8" cy="606.4" rx="4.1" ry="5.7"/>
<ellipse cx="556.8" cy="547.8" rx="4.0" ry="5.5"/>
<ellipse cx="487.1" cy="491.3" rx="3.5" ry="5.9"/>
<ellipse cx="493.9" cy="396.5" rx="4.0" ry="6.6"/>
<ellipse cx="541.4" cy="369.4" rx="4.0" ry="6.4"/>
<ellipse cx="488.1" cy="150.8" rx="3.8" ry="6.1"/>
<ellipse cx="487.3" cy="273.0" rx="3.8" ry="6.7"/>
<ellipse cx="524.7" cy="243.4" rx="3.9" ry="6.9"/>
<ellipse cx="518.0" cy="681.8" rx="4.2" ry="4.6"/>
<ellipse cx="616.8" cy="261.0" rx="3.5" ry="6.9"/>
<ellipse cx="519.6" cy="387.6" rx="3.7" ry="6.4"/>
<ellipse cx="617.7" cy="96.1" rx="3.5" ry="6.7"/>
<ellipse cx="576.2" cy="195.9" rx="3.6" ry="6.6"/>
<ellipse cx="534.4" cy="405.6" rx="4.0" ry="6.0"/>
<ellipse cx="602.7" cy="319.2" rx="4.1" ry="6.0"/>
<ellipse cx="599.0" cy="542.4" rx="3.7" ry="6.3"/>
<ellipse cx="544.7" cy="580.0" rx="4.2" ry="5.7"/>
<ellipse cx="599.8" cy="495.6" rx="3.8" ry="5.9"/>
<ellipse cx="571.0" cy="602.6" rx="4.0" ry="5.4"/>
<ellipse cx="468.6" cy="677.3" rx="4.0" ry="4.4"/>
<ellipse cx="611.5" cy="111.0" rx="3.8" ry="6.1"/>
<ellipse cx="602.6" cy="586.1" rx="4.3" ry="5.1"/>
<ellipse cx="536.4" cy="458.8" rx="3.5" ry="5.9"/>
<ellipse cx="599.9" cy="517.4" rx="4.0" ry="6.9"/>
<ellipse cx="512.9" cy="160.4" rx="3.8" ry="6.9"/>
<ellipse cx="544.9" cy="410.2" rx="3.7" ry="6.8"/>
<ellipse cx="586.8" cy="100.0" rx="4.0" ry="6.5"/>
<ellipse cx="529.1" cy="118.8" rx="4.0" ry="6.4"/>
<ellipse cx="557.5" cy="240.5" rx="4.0" ry="6.5"/>
<ellipse cx="565.7" cy="188.9" rx="4.0" ry="5.9"/>
<ellipse cx="576.3" cy="141.4" rx="3.9" ry="6.1"/>
<ellipse cx="576.8" cy="267.0" rx="3.9" ry="5.9"/>
<ellipse cx="613.8" cy="170.4" rx="3.6" ry="6.0"/>
<ellipse cx="533.0" cy="682.9" rx="4.6" ry="4.3"/>
<ellipse cx="582.3" cy="336.4" rx="3.8" ry="6.7"/>
<ellipse cx="533.8" cy="210.9" rx="3.8" ry="6.0"/>
<ellipse cx="535.7" cy="226.6" rx="3.5" ry="6.4"/>
<ellipse cx="513.4" cy="345.4" rx="3.6" ry="6.1"/>
<ellipse cx="606.6" cy="93.2" rx="4.0" ry="6.2"/>
<ellipse cx="568.8" cy="618.1" rx="3.9" ry="5.7"/>
<ellipse cx="556.9" cy="386.0" rx="3.8" ry="5.9"/>
<ellipse cx="561.8" cy="500.0" rx="4.0" ry="6.4"/>
<ellipse cx="549.5" cy="221.1" rx="3.8" ry="6.3"/>
<ellipse cx="513.3" cy="530.5" rx="3.7" ry="6.5"/>
<ellipse cx="517.6" cy="123.9" rx="3.9" ry="6.5"/>
<ellipse cx="486.6" cy="203.0" rx="3.5" ry="6.9"/>
<ellipse cx="494.9" cy="697.5" rx="4.6" ry="4.3"/>
<ellipse cx="503.2" cy="246.3" rx="3.9" ry="6.3"/>
<ellipse cx="615.7" cy="204.6" rx="4.1" ry="6.2"/>
<ellipse cx="547.5" cy="472.4" rx="3.5" ry="6.9"/>
<ellipse cx="489.4" cy="427.2" rx="4.1" ry="6.3"/>
<ellipse cx="591.8" cy="180.8" rx="3.5" ry="6.9"/>
<ellipse cx="534.3" cy="279.0" rx="4.1" ry="6.7"/>
<ellipse cx="551.5" cy="637.5" rx="4.2" ry="4.9"/>
<ellipse cx="600.7" cy="452.1" rx="3.9" ry="6.2"/>
<ellipse cx="496.6" cy="667.2" rx="4.6" ry="4.8"/>
<ellipse cx="615.8" cy="289.2" rx="3.5" ry="6.2"/>
<ellipse cx="489.6" cy="592.7" rx="3.8" ry="5.5"/>
<ellipse cx="590.6" cy="631.0" rx="4.1" ry="5.3"/>
<ellipse cx="533.6" cy="92.1" rx="4.1" ry="6.3"/>
<ellipse cx="572.1" cy="296.2" rx="3.8" ry="6.1"/>
<ellipse cx="574.6" cy="96.0" rx="4.0" ry="6.6"/>
<ellipse cx="485.6" cy="347.0" rx="3.9" ry="6.8"/>
<ellipse cx="582.2" cy="674.1" rx="4.0" ry="4.4"/>
<ellipse cx="518.1" cy="629.4" rx="4.0" ry="5.6"/>
<ellipse cx="499.4" cy="195.0" rx="3.8" ry="6.0"/>
<ellipse cx="583.8" cy="586.3" rx="4.0" ry="5.4"/>
<ellipse cx="548.2" cy="253.6" rx="4.0" ry="6.4"/>
<ellipse cx="532.5" cy="337.1" rx="3.7" ry="6.3"/>
<ellipse cx="623.2" cy="660.2" rx="4.0" ry="4.8"/>
<ellipse cx="481.1" cy="678.4" rx="4.1" ry="5.0"/>
<ellipse cx="506.2" cy="262.5" rx="4.1" ry="6.6"/>
<ellipse cx="581.0" cy="231.0" rx="3.8" ry="6.1"/>
<ellipse cx="522.6" cy="211.2" rx="3.9" ry="5.9"/>
<ellipse cx="616.3" cy="187.2" rx="3.6" ry="6.2"/>
<ellipse cx="522.3" cy="181.1" rx="3.7" ry="6.5"/>
<ellipse cx="596.2" cy="120.5" rx="3.8" ry="6.9"/>
<ellipse cx="599.4" cy="144.4" rx="3.7" ry="6.0"/>
<ellipse cx="517.2" cy="305.2" rx="4.1" ry="6.1"/>
<ellipse cx="484.5" cy="713.6" rx="4.2" ry="4.5"/>
<ellipse cx="587.2" cy="367.7" rx="3.9" ry="6.2"/>
<ellipse cx="560.8" cy="335.6" rx="3.7" ry="6.1"/>
<ellipse cx="517.2" cy="145.6" rx="3.8" ry="6.8"/>
<ellipse cx="506.5" cy="560.7" rx="4.0" ry="5.7"/>
<ellipse cx="543.3" cy="307.5" rx="3.9" ry="6.9"/>
<ellipse cx="556.9" cy="714.0" rx="4.3" ry="4.3"/>
<ellipse cx="637.1" cy="713.1" rx="4.2" ry="5.1"/>
<ellipse cx="570.1" cy="514.1" rx="3.9" ry="6.3"/>
<ellipse cx="563.8" cy="414.5" rx="3.7" ry="6.5"/>
<ellipse cx="522.8" cy="590.7" rx="4.3" ry="5.1"/>
<ellipse cx="525.3" cy="462.9" rx="4.0" ry="6.2"/>
<ellipse cx="475.6" cy="619.2" rx="4.4" ry="4.8"/>
<ellipse cx="539.9" cy="169.9" rx="3.8" ry="6.3"/>
<ellipse cx="599.7" cy="620.3" rx="4.2" ry="5.7"/>
<ellipse cx="560.5" cy="570.5" rx="4.2" ry="5.7"/>
<ellipse cx="509.7" cy="474.8" rx="4.0" ry="6.4"/>
<ellipse cx="618.4" cy="608.2" rx="4.1" ry="5.2"/>
<ellipse cx="544.9" cy="156.4" rx="3.9" ry="6.8"/>
<ellipse cx="593.1" cy="327.7" rx="3.9" ry="6.7"/>
<ellipse cx="590.1" cy="304.4" rx="4.0" ry="5.8"/>
<ellipse cx="558.0" cy="115.0" rx="4.1" ry="6.5"/>
<ellipse cx="572.7" cy="210.6" rx="3.7" ry="6.8"/>
<ellipse cx="541.2" cy="631.1" rx="4.4" ry="4.8"/>
<ellipse cx="544.6" cy="183.6" rx="3.9" ry="6.8"/>
</g>
</g>
</g>
<clipPath id="c2"><rect x="1560" y="465" width="140" height="1005"/></clipPath>
<g clip-path="url(#c2)">
<rect x="1560" y="465" width="140" height="1005" fill="#131313"/>
<rect x="1560" y="465" width="14" height="23" fill="#050505"/><rect x="1689" y="465" width="11" height="23" fill="#050505"/>
<rect x="1573" y="465" width="118" height="1005" fill="#2b2b2b"/>
<g fill="#a6a6a6" filter="url(#b2)">
<ellipse cx="1685.1" cy="603.8" rx="4.2" ry="4.4"/>
<ellipse cx="1575.8" cy="1470.6" rx="4.0" ry="4.3"/>
<ellipse cx="1594.6" cy="583.8" rx="4.4" ry="4.2"/>
<ellipse cx="1649.2" cy="811.1" rx="4.3" ry="4.5"/>
<ellipse cx="1677.1" cy="696.1" rx="4.8" ry="4.6"/>
<ellipse cx="1685.3" cy="784.6" rx="4.1" ry="3.9"/>
<ellipse cx="1643.3" cy="1403.4" rx="4.0" ry="3.8"/>
<ellipse cx="1653.2" cy="1395.1" rx="4.4" ry="4.1"/>
<ellipse cx="1655.8" cy="510.9" rx="3.9" ry="4.1"/>
<ellipse cx="1676.1" cy="1057.5" rx="4.0" ry="4.4"/>
<ellipse cx="1609.3" cy="654.0" rx="4.3" ry="4.2"/>
<ellipse cx="1685.5" cy="1034.0" rx="4.2" ry="4.1"/>
<ellipse cx="1654.7" cy="1080.4" rx="4.5" ry="4.5"/>
<ellipse cx="1603.2" cy="1428.3" rx="4.5" ry="4.2"/>
<ellipse cx="1609.6" cy="1250.9" rx="4.2" ry="4.2"/>
<ellipse cx="1684.7" cy="1119.4" rx="4.0" ry="4.1"/>
<ellipse cx="1589.6" cy="1295.5" rx="4.5" ry="4.1"/>
<ellipse cx="1651.1" cy="648.9" rx="4.4" ry="4.2"/>
<ellipse cx="1578.7" cy="999.1" rx="4.4" ry="4.7"/>
<ellipse cx="1576.8" cy="1396.3" rx="4.1" ry="4.1"/>
<ellipse cx="1632.2" cy="984.5" rx="4.6" ry="5.1"/>
<ellipse cx="1620.9" cy="1129.6" rx="4.5" ry="4.4"/>
<ellipse cx="1680.2" cy="772.4" rx="4.0" ry="4.0"/>
<ellipse cx="1616.7" cy="1050.4" rx="4.5" ry="4.6"/>
<ellipse cx="1607.8" cy="1063.6" rx="4.3" ry="4.1"/>
<ellipse cx="1636.5" cy="899.8" rx="4.0" ry="3.7"/>
<ellipse cx="1651.8" cy="995.5" rx="4.3" ry="4.3"/>
<ellipse cx="1614.6" cy="898.1" rx="4.0" ry="3.9"/>
<ellipse cx="1620.1" cy="1400.8" rx="4.7" ry="4.9"/>
<ellipse cx="1684.4" cy="979.1" rx="4.2" ry="4.6"/>
<ellipse cx="1619.9" cy="559.5" rx="4.4" ry="4.3"/>
<ellipse cx="1677.8" cy="635.1" rx="4.0" ry="4.1"/>
<ellipse cx="1637.0" cy="814.6" rx="4.1" ry="4.1"/>
<ellipse cx="1611.4" cy="822.8" rx="4.6" ry="4.7"/>
<ellipse cx="1595.4" cy="499.3" rx="4.1" ry="4.2"/>
<ellipse cx="1648.7" cy="665.5" rx="4.1" ry="4.2"/>
<ellipse cx="1621.1" cy="1298.4" rx="4.1" ry="4.5"/>
<ellipse cx="1680.8" cy="927.2" rx="3.9" ry="3.5"/>
<ellipse cx="1672.0" cy="965.5" rx="4.5" ry="4.3"/>
<ellipse cx="1634.3" cy="1052.4" rx="4.2" ry="4.5"/>
<ellipse cx="1628.3" cy="1196.5" rx="4.6" ry="4.3"/>
<ellipse cx="1664.7" cy="1290.0" rx="4.7" ry="4.9"/>
<ellipse cx="1644.2" cy="1414.2" rx="4.3" ry="4.4"/>
<ellipse cx="1593.1" cy="1161.0" rx="4.1" ry="4.0"/>
<ellipse cx="1623.8" cy="733.7" rx="4.5" ry="4.6"/>
<ellipse cx="1577.9" cy="1438.8" rx="4.5" ry="4.7"/>
<ellipse cx="1614.2" cy="581.3" rx="4.8" ry="5.0"/>
<ellipse cx="1598.3" cy="719.5" rx="4.4" ry="4.4"/>
<ellipse cx="1605.3" cy="560.3" rx="4.5" ry="4.5"/>
<ellipse cx="1628.0" cy="671.8" rx="4.5" ry="5.0"/>
<ellipse cx="1613.3" cy="1204.3" rx="4.7" ry="4.7"/>
<ellipse cx="1681.2" cy="1304.5" rx="4.6" ry="4.6"/>
<ellipse cx="1577.5" cy="843.5" rx="4.3" ry="4.0"/>
<ellipse cx="1672.3" cy="495.3" rx="4.1" ry="4.2"/>
<ellipse cx="1596.8" cy="956.9" rx="4.0" ry="3.6"/>
<ellipse cx="1617.7" cy="1219.8" rx="4.8" ry="4.9"/>
<ellipse cx="1657.0" cy="931.1" rx="4.6" ry="4.5"/>
<ellipse cx="1602.1" cy="695.0" rx="4.7" ry="4.9"/>
<ellipse cx="1604.2" cy="527.9" rx="4.8" ry="4.3"/>
<ellipse cx="1650.9" cy="621.4" rx="4.3" ry="4.3"/>
<ellipse cx="1579.6" cy="965.7" rx="4.3" ry="4.3"/>
<ellipse cx="1643.6" cy="504.7" rx="4.6" ry="4.6"/>
<ellipse cx="1629.9" cy="492.1" rx="4.1" ry="3.8"/>
<ellipse cx="1662.7" cy="466.1" rx="4.7" ry="5.0"/>
<ellipse cx="1646.9" cy="1457.4" rx="4.7" ry="4.8"/>
<ellipse cx="1635.5" cy="603.2" rx="4.8" ry="4.6"/>
<ellipse cx="1613.0" cy="1334.5" rx="4.1" ry="4.1"/>
<ellipse cx="1617.4" cy="1108.6" rx="4.6" ry="4.7"/>
<ellipse cx="1677.5" cy="1018.9" rx="3.9" ry="4.0"/>
<ellipse cx="1615.4" cy="1319.0" rx="4.0" ry="4.3"/>
<ellipse cx="1633.0" cy="652.2" rx="4.4" ry="4.3"/>
<ellipse cx="1605.5" cy="622.7" rx="4.8" ry="4.5"/>
<ellipse cx="1671.1" cy="977.0" rx="4.0" ry="4.1"/>
<ellipse cx="1654.5" cy="1287.5" rx="3.9" ry="4.1"/>
<ellipse cx="1686.9" cy="654.4" rx="4.6" ry="4.5"/>
<ellipse cx="1620.5" cy="1344.9" rx="4.0" ry="4.0"/>
<ellipse cx="1662.1" cy="852.6" rx="4.4" ry="4.7"/>
<ellipse cx="1591.9" cy="513.1" rx="4.6" ry="4.4"/>
<ellipse cx="1617.4" cy="700.3" rx="4.2" ry="4.4"/>
<ellipse cx="1633.6" cy="1441.2" rx="4.6" ry="4.3"/>
<ellipse cx="1590.9" cy="1025.3" rx="3.9" ry="4.1"/>
<ellipse cx="1634.7" cy="1237.5" rx="4.5" ry="4.2"/>
<ellipse cx="1575.6" cy="1420.0" rx="4.7" ry="4.6"/>
<ellipse cx="1669.6" cy="561.6" rx="4.7" ry="4.6"/>
<ellipse cx="1580.8" cy="642.1" rx="3.9" ry="3.9"/>
<ellipse cx="1632.1" cy="1409.7" rx="4.1" ry="3.8"/>
<ellipse cx="1679.4" cy="878.1" rx="4.4" ry="4.3"/>
<ellipse cx="1645.8" cy="1209.2" rx="4.2" ry="4.4"/>
<ellipse cx="1611.9" cy="1442.2" rx="4.1" ry="4.2"/>
<ellipse cx="1683.2" cy="1196.2" rx="4.6" ry="4.2"/>
<ellipse cx="1678.5" cy="1270.8" rx="4.0" ry="4.0"/>
<ellipse cx="1649.3" cy="786.6" rx="4.4" ry="4.2"/>
<ellipse cx="1607.9" cy="486.1" rx="4.1" ry="3.7"/>
<ellipse cx="1625.1" cy="797.5" rx="4.4" ry="4.0"/>
<ellipse cx="1593.5" cy="943.5" rx="4.1" ry="3.7"/>
<ellipse cx="1621.5" cy="819.6" rx="4.5" ry="4.7"/>
<ellipse cx="1668.2" cy="771.8" rx="4.2" ry="3.9"/>
<ellipse cx="1636.3" cy="1348.7" rx="4.1" ry="4.1"/>
<ellipse cx="1685.2" cy="840.5" rx="4.2" ry="4.2"/>
<ellipse cx="1633.2" cy="681.8" rx="4.4" ry="4.0"/>
<ellipse cx="1588.0" cy="703.4" rx="4.5" ry="4.8"/>
<ellipse cx="1609.3" cy="602.1" rx="4.1" ry="3.9"/>
<ellipse cx="1669.0" cy="576.5" rx="4.6" ry="4.3"/>
<ellipse cx="1632.0" cy="531.9" rx="4.3" ry="4.3"/>
<ellipse cx="1612.7" cy="846.5" rx="4.7" ry="4.3"/>
<ellipse cx="1626.7" cy="1099.0" rx="4.2" ry="4.4"/>
<ellipse cx="1578.7" cy="1155.1" rx="3.9" ry="4.3"/>
<ellipse cx="1667.5" cy="1139.4" rx="4.5" ry="4.7"/>
<ellipse cx="1615.2" cy="750.8" rx="4.3" ry="4.1"/>
<ellipse cx="1591.1" cy="919.8" rx="4.7" ry="4.7"/>
<ellipse cx="1664.1" cy="681.3" rx="3.9" ry="3.9"/>
<ellipse cx="1646.6" cy="482.7" rx="4.1" ry="3.8"/>
<ellipse cx="1612.5" cy="864.1" rx="4.5" ry="4.0"/>
<ellipse cx="1638.2" cy="638.7" rx="4.2" ry="4.3"/>
<ellipse cx="1620.5" cy="1388.8" rx="4.2" ry="4.2"/>
<ellipse cx="1638.1" cy="1293.3" rx="4.3" ry="4.1"/>
<ellipse cx="1603.6" cy="1339.4" rx="4.0" ry="4.3"/>
<ellipse cx="1635.0" cy="1150.7" rx="4.7" ry="4.4"/>
<ellipse cx="1640.0" cy="1070.0" rx="4.2" ry="4.4"/>
<ellipse cx="1601.1" cy="1021.5" rx="4.4" ry="4.4"/>
<ellipse cx="1640.9" cy="692.0" rx="4.3" ry="4.4"/>
<ellipse cx="1621.6" cy="591.4" rx="4.3" ry="4.3"/>
<ellipse cx="1643.8" cy="773.1" rx="4.1" ry="4.4"/>
<ellipse cx="1663.9" cy="590.1" rx="4.7" ry="5.1"/>
<ellipse cx="1652.6" cy="1183.1" rx="4.6" ry="5.0"/>
<ellipse cx="1600.3" cy="593.6" rx="4.0" ry="4.1"/>
<ellipse cx="1603.5" cy="470.9" rx="4.3" ry="4.6"/>
<ellipse cx="1591.5" cy="1412.1" rx="4.5" ry="4.1"/>
<ellipse cx="1632.5" cy="624.2" rx="4.1" ry="4.3"/>
<ellipse cx="1602.7" cy="910.8" rx="4.6" ry="4.8"/>
<ellipse cx="1625.7" cy="1166.3" rx="4.0" ry="3.8"/>
<ellipse cx="1594.0" cy="1329.3" rx="4.3" ry="4.0"/>
<ellipse cx="1578.9" cy="586.4" rx="4.7" ry="4.5"/>
<ellipse cx="1636.3" cy="1395.0" rx="4.5" ry="4.5"/>
<ellipse cx="1646.3" cy="800.8" rx="4.1" ry="3.7"/>
<ellipse cx="1620.7" cy="504.6" rx="4.7" ry="4.6"/>
<ellipse cx="1613.2" cy="1027.9" rx="4.5" ry="4.8"/>
<ellipse cx="1590.1" cy="1376.5" rx="4.7" ry="4.5"/>
<ellipse cx="1678.8" cy="1158.8" rx="4.4" ry="4.8"/>
<ellipse cx="1684.5" cy="1390.8" rx="4.8" ry="4.8"/>
<ellipse cx="1625.9" cy="850.7" rx="4.6" ry="4.7"/>
<ellipse cx="1581.6" cy="1087.4" rx="4.4" ry="4.8"/>
<ellipse cx="1673.0" cy="854.8" rx="4.3" ry="4.3"/>
<ellipse cx="1606.8" cy="1081.1" rx="4.1" ry="3.8"/>
<ellipse cx="1665.8" cy="633.4" rx="4.2" ry="4.5"/>
<ellipse cx="1606.0" cy="1110.7" rx="4.0" ry="4.4"/>
<ellipse cx="1577.8" cy="1287.0" rx="4.6" ry="4.9"/>
<ellipse cx="1609.9" cy="1302.4" rx="4.0" ry="4.1"/>
<ellipse cx="1603.5" cy="1227.2" rx="4.8" ry="5.0"/>
<ellipse cx="1665.9" cy="1099.5" rx="4.6" ry="4.5"/>
<ellipse cx="1608.9" cy="1132.7" rx="3.9" ry="4.0"/>
<ellipse cx="1658.7" cy="833.0" rx="4.2" ry="4.2"/>
<ellipse cx="1582.5" cy="935.6" rx="4.1" ry="4.2"/>
<ellipse cx="1618.7" cy="537.4" rx="4.2" ry="4.1"/>
<ellipse cx="1678.1" cy="745.6" rx="4.3" ry="4.6"/>
<ellipse cx="1678.1" cy="1206.7" rx="4.1" ry="4.4"/>
<ellipse cx="1574.3" cy="1370.2" rx="4.2" ry="4.6"/>
<ellipse cx="1667.7" cy="992.7" rx="4.7" ry="5.1"/>
<ellipse cx="1676.5" cy="945.1" rx="4.0" ry="3.6"/>
<ellipse cx="1599.7" cy="817.7" rx="4.4" ry="4.3"/>
<ellipse cx="1621.5" cy="613.4" rx="4.1" ry="4.1"/>
<ellipse cx="1649.9" cy="706.6" rx="4.1" ry="4.0"/>
<ellipse cx="1623.3" cy="1235.5" rx="3.9" ry="3.8"/>
<ellipse cx="1613.4" cy="721.4" rx="4.2" ry="4.3"/>
<ellipse cx="1587.3" cy="759.7" rx="4.0" ry="4.3"/>
<ellipse cx="1600.4" cy="1204.6" rx="4.6" ry="4.2"/>
<ellipse cx="1614.5" cy="1175.9" rx="4.4" ry="4.0"/>
<ellipse cx="1679.5" cy="663.3" rx="4.8" ry="4.5"/>
<ellipse cx="1578.8" cy="953.4" rx="4.6" ry="4.7"/>
<ellipse cx="1641.4" cy="574.8" rx="4.7" ry="4.7"/>
<ellipse cx="1630.0" cy="930.6" rx="4.3" ry="4.7"/>
<ellipse cx="1633.1" cy="703.9" rx="4.1" ry="4.0"/>
<ellipse cx="1638.0" cy="970.6" rx="4.5" ry="4.8"/>
<ellipse cx="1653.8" cy="974.8" rx="4.8" ry="4.7"/>
<ellipse cx="1584.5" cy="574.9" rx="4.1" ry="4.3"/>
<ellipse cx="1672.4" cy="1331.7" rx="4.7" ry="4.5"/>
<ellipse cx="1687.5" cy="734.9" rx="4.3" ry="4.4"/>
<ellipse cx="1581.5" cy="1208.8" rx="3.9" ry="4.2"/>
<ellipse cx="1662.0" cy="1213.4" rx="4.2" ry="4.1"/>
<ellipse cx="1630.7" cy="1471.0" rx="3.9" ry="3.9"/>
<ellipse cx="1664.3" cy="699.4" rx="4.3" ry="4.5"/>
<ellipse cx="1664.1" cy="550.1" rx="3.9" ry="3.9"/>
<ellipse cx="1614.4" cy="950.2" rx="4.2" ry="3.8"/>
<ellipse cx="1636.0" cy="1458.1" rx="4.1" ry="3.8"/>
<ellipse cx="1619.3" cy="885.5" rx="3.9" ry="3.8"/>
<ellipse cx="1684.7" cy="1175.7" rx="4.0" ry="4.0"/>
<ellipse cx="1639.7" cy="832.5" rx="4.3" ry="4.7"/>
<ellipse cx="1660.9" cy="1192.4" rx="4.1" ry="4.0"/>
<ellipse cx="1661.8" cy="498.2" rx="4.3" ry="4.7"/>
<ellipse cx="1653.0" cy="744.6" rx="4.7" ry="4.8"/>
<ellipse cx="1597.6" cy="679.3" rx="3.9" ry="4.1"/>
<ellipse cx="1634.1" cy="510.0" rx="4.6" ry="4.3"/>
<ellipse cx="1583.4" cy="549.1" rx="4.0" ry="4.3"/>
<ellipse cx="1658.8" cy="1442.1" rx="4.0" ry="4.2"/>
<ellipse cx="1588.2" cy="539.5" rx="4.4" ry="4.2"/>
<ellipse cx="1632.8" cy="1333.0" rx="4.5" ry="4.7"/>
<ellipse cx="1659.4" cy="1335.6" rx="4.3" ry="3.9"/>
<ellipse cx="1596.0" cy="983.1" rx="4.5" ry="4.2"/>
<ellipse cx="1599.9" cy="1044.8" rx="4.7" ry="4.9"/>
<ellipse cx="1646.1" cy="1094.9" rx="4.1" ry="3.8"/>
<ellipse cx="1681.1" cy="1134.5" rx="4.0" ry="3.9"/>
<ellipse cx="1588.2" cy="869.7" rx="4.2" ry="4.3"/>
<ellipse cx="1634.3" cy="1215.8" rx="3.9" ry="4.3"/>
<ellipse cx="1635.0" cy="555.8" rx="4.6" ry="4.5"/>
<ellipse cx="1664.9" cy="912.4" rx="4.7" ry="4.7"/>
<ellipse cx="1585.9" cy="990.2" rx="4.0" ry="4.1"/>
<ellipse cx="1642.8" cy="1027.5" rx="4.1" ry="4.2"/>
<ellipse cx="1638.8" cy="1310.3" rx="4.0" ry="3.9"/>
<ellipse cx="1678.1" cy="1099.3" rx="3.9" ry="4.2"/>
<ellipse cx="1584.8" cy="1034.9" rx="4.1" ry="4.0"/>
<ellipse cx="1594.4" cy="1131.2" rx="4.0" ry="4.3"/>
<ellipse cx="1648.4" cy="1245.3" rx="4.4" ry="4.7"/>
<ellipse cx="1655.1" cy="1383.7" rx="4.5" ry="4.3"/>
<ellipse cx="1687.2" cy="673.6" rx="4.7" ry="5.1"/>
<ellipse cx="1622.9" cy="1084.5" rx="4.6" ry="4.7"/>
<ellipse cx="1623.2" cy="635.2" rx="4.3" ry="4.5"/>
<ellipse cx="1630.3" cy="1184.3" rx="4.3" ry="4.2"/>
<ellipse cx="1666.7" cy="1362.3" rx="4.0" ry="4.0"/>
<ellipse cx="1629.5" cy="581.3" rx="4.2" ry="4.3"/>
<ellipse cx="1654.7" cy="862.0" rx="4.4" ry="4.7"/>
<ellipse cx="1644.7" cy="879.5" rx="4.7" ry="4.7"/>
<ellipse cx="1620.3" cy="1457.3" rx="4.4" ry="4.4"/>
<ellipse cx="1625.3" cy="755.0" rx="4.6" ry="4.6"/>
<ellipse cx="1633.3" cy="1365.3" rx="4.7" ry="4.8"/>
<ellipse cx="1679.1" cy="1232.1" rx="4.3" ry="4.3"/>
<ellipse cx="1577.7" cy="1101.9" rx="4.4" ry="4.7"/>
<ellipse cx="1632.3" cy="997.3" rx="4.7" ry="5.1"/>
<ellipse cx="1583.5" cy="726.3" rx="4.8" ry="4.8"/>
<ellipse cx="1674.6" cy="814.7" rx="4.3" ry="4.3"/>
<ellipse cx="1606.1" cy="880.5" rx="4.3" ry="4.6"/>
<ellipse cx="1677.9" cy="998.0" rx="4.3" ry="4.6"/>
<ellipse cx="1646.9" cy="1114.1" rx="4.6" ry="4.9"/>
<ellipse cx="1651.1" cy="1364.4" rx="4.5" ry="4.2"/>
<ellipse cx="1587.6" cy="1185.8" rx="4.1" ry="4.3"/>
<ellipse cx="1673.4" cy="618.7" rx="4.1" ry="4.4"/>
<ellipse cx="1584.6" cy="1242.0" rx="4.2" ry="3.9"/>
<ellipse cx="1686.3" cy="530.0" rx="4.7" ry="5.1"/>
<ellipse cx="1601.5" cy="868.2" rx="4.2" ry="4.1"/>
<ellipse cx="1673.4" cy="1312.5" rx="3.9" ry="4.3"/>
<ellipse cx="1672.8" cy="1401.8" rx="3.9" ry="4.0"/>
<ellipse cx="1675.9" cy="1220.6" rx="4.1" ry="4.4"/>
<ellipse cx="1588.6" cy="1355.7" rx="3.9" ry="4.2"/>
<ellipse cx="1678.8" cy="513.6" rx="4.1" ry="4.2"/>
<ellipse cx="1596.3" cy="895.7" rx="4.3" ry="4.0"/>
<ellipse cx="1579.0" cy="621.0" rx="4.8" ry="4.4"/>
<ellipse cx="1609.5" cy="1455.7" rx="4.5" ry="4.7"/>
<ellipse cx="1673.1" cy="1458.7" rx="4.6" ry="4.2"/>
<ellipse cx="1651.9" cy="957.3" rx="4.5" ry="4.5"/>
<ellipse cx="1598.7" cy="850.2" rx="4.4" ry="4.3"/>
<ellipse cx="1667.3" cy="601.4" rx="4.0" ry="4.1"/>
<ellipse cx="1579.4" cy="665.1" rx="4.5" ry="4.8"/>
<ellipse cx="1667.3" cy="1164.2" rx="4.1" ry="4.2"/>
<ellipse cx="1685.4" cy="909.2" rx="4.2" ry="4.2"/>
<ellipse cx="1666.2" cy="1411.0" rx="4.4" ry="4.0"/>
<ellipse cx="1645.3" cy="611.2" rx="4.4" ry="4.6"/>
<ellipse cx="1630.7" cy="955.1" rx="4.2" ry="3.8"/>
<ellipse cx="1662.3" cy="762.8" rx="4.8" ry="4.8"/>
<ellipse cx="1596.1" cy="1100.2" rx="4.7" ry="5.0"/>
<ellipse cx="1665.1" cy="483.4" rx="4.7" ry="4.8"/>
<ellipse cx="1687.7" cy="966.1" rx="3.9" ry="4.3"/>
<ellipse cx="1581.9" cy="806.8" rx="4.2" ry="3.9"/>
<ellipse cx="1682.5" cy="577.5" rx="4.2" ry="3.9"/>
<ellipse cx="1621.7" cy="771.1" rx="4.6" ry="5.0"/>
<ellipse cx="1618.3" cy="915.9" rx="4.5" ry="4.2"/>
<ellipse cx="1655.8" cy="541.8" rx="4.5" ry="4.5"/>
<ellipse cx="1669.2" cy="896.1" rx="4.0" ry="3.7"/>
<ellipse cx="1582.8" cy="1113.2" rx="4.3" ry="4.2"/>
<ellipse cx="1668.2" cy="1010.4" rx="4.3" ry="4.8"/>
<ellipse cx="1651.2" cy="1318.0" rx="4.5" ry="4.1"/>
<ellipse cx="1589.8" cy="1225.5" rx="4.7" ry="4.2"/>
<ellipse cx="1593.0" cy="794.7" rx="4.7" ry="4.7"/>
<ellipse cx="1605.8" cy="756.9" rx="4.4" ry="4.5"/>
<ellipse cx="1644.3" cy="1047.1" rx="4.7" ry="5.0"/>
<ellipse cx="1676.0" cy="709.5" rx="4.1" ry="4.2"/>
<ellipse cx="1668.9" cy="1381.6" rx="4.5" ry="4.5"/>
<ellipse cx="1656.1" cy="1119.2" rx="4.0" ry="4.3"/>
<ellipse cx="1587.7" cy="846.4" rx="3.9" ry="4.1"/>
<ellipse cx="1627.1" cy="865.9" rx="4.5" ry="4.9"/>
<ellipse cx="1595.3" cy="771.8" rx="4.4" ry="4.1"/>
<ellipse cx="1609.2" cy="501.2" rx="4.5" ry="4.3"/>
<ellipse cx="1585.3" cy="1125.3" rx="4.4" ry="4.8"/>
<ellipse cx="1576.2" cy="1359.7" rx="4.6" ry="4.7"/>
<ellipse cx="1585.5" cy="478.9" rx="4.3" ry="4.1"/>
<ellipse cx="1644.8" cy="852.8" rx="4.3" ry="4.2"/>
<ellipse cx="1676.5" cy="1419.9" rx="4.2" ry="3.9"/>
<ellipse cx="1604.0" cy="783.1" rx="4.7" ry="4.4"/>
<ellipse cx="1595.7" cy="752.5" rx="4.5" ry="4.6"/>
<ellipse cx="1652.1" cy="530.2" rx="4.5" ry="4.3"/>
<ellipse cx="1682.0" cy="549.9" rx="4.0" ry="4.2"/>
<ellipse cx="1678.0" cy="476.5" rx="4.3" ry="4.0"/>
<ellipse cx="1593.8" cy="635.6" rx="4.6" ry="4.9"/>
<ellipse cx="1655.0" cy="1420.3" rx="4.1" ry="3.9"/>
<ellipse cx="1631.1" cy="880.5" rx="4.3" ry="4.7"/>
<ellipse cx="1657.5" cy="720.9" rx="4.2" ry="3.8"/>
<ellipse cx="1624.0" cy="1118.4" rx="4.0" ry="4.2"/>
<ellipse cx="1651.0" cy="464.9" rx="4.8" ry="4.5"/>
<ellipse cx="1589.2" cy="561.8" rx="4.0" ry="4.0"/>
<ellipse cx="1581.3" cy="712.6" rx="4.8" ry="4.9"/>
<ellipse cx="1582.6" cy="1174.1" rx="4.0" ry="4.2"/>
<ellipse cx="1649.9" cy="907.9" rx="4.6" ry="4.9"/>
<ellipse cx="1686.1" cy="1087.2" rx="4.7" ry="4.4"/>
<ellipse cx="1595.7" cy="666.9" rx="4.8" ry="4.9"/>
<ellipse cx="1686.4" cy="753.8" rx="4.6" ry="5.0"/>
<ellipse cx="1614.4" cy="1164.1" rx="4.7" ry="4.8"/>
<ellipse cx="1586.2" cy="654.2" rx="4.8" ry="4.6"/>
<ellipse cx="1684.7" cy="824.7" rx="4.2" ry="3.9"/>
<ellipse cx="1651.5" cy="495.8" rx="4.4" ry="4.5"/>
<ellipse cx="1649.2" cy="1151.5" rx="4.7" ry="4.5"/>
<ellipse cx="1651.8" cy="1162.8" rx="3.9" ry="4.2"/>
<ellipse cx="1614.8" cy="1424.1" rx="4.0" ry="3.9"/>
<ellipse cx="1579.0" cy="1016.0" rx="4.7" ry="4.5"/>
<ellipse cx="1602.6" cy="739.0" rx="4.1" ry="4.4"/>
<ellipse cx="1595.8" cy="1088.5" rx="4.1" ry="3.9"/>
<ellipse cx="1668.3" cy="924.0" rx="4.5" ry="4.7"/>
<ellipse cx="1661.6" cy="656.9" rx="4.7" ry="4.5"/>
<ellipse cx="1670.8" cy="1301.7" rx="4.1" ry="4.3"/>
<ellipse cx="1661.0" cy="881.6" rx="4.2" ry="4.4"/>
<ellipse cx="1591.3" cy="1142.8" rx="4.5" ry="4.9"/>
<ellipse cx="1591.5" cy="1449.5" rx="4.3" ry="4.5"/>
<ellipse cx="1586.6" cy="834.2" rx="4.3" ry="4.6"/>
<ellipse cx="1637.8" cy="730.5" rx="4.7" ry="4.5"/>
<ellipse cx="1632.1" cy="542.6" rx="3.9" ry="4.1"/>
<ellipse cx="1684.6" cy="1353.6" rx="4.7" ry="4.5"/>
<ellipse cx="1608.7" cy="1367.2" rx="4.0" ry="3.7"/>
<ellipse cx="1648.6" cy="731.7" rx="4.1" ry="4.3"/>
<ellipse cx="1643.2" cy="1058.5" rx="4.7" ry="5.1"/>
<ellipse cx="1590.5" cy="611.6" rx="4.7" ry="4.5"/>
<ellipse cx="1629.6" cy="519.7" rx="4.1" ry="4.4"/>
<ellipse cx="1678.9" cy="1290.4" rx="4.1" ry="3.9"/>
<ellipse cx="1622.7" cy="469.7" rx="4.5" ry="4.1"/>
<ellipse cx="1670.4" cy="1441.7" rx="4.0" ry="4.3"/>
<ellipse cx="1578.8" cy="527.3" rx="4.0" ry="3.8"/>
<ellipse cx="1616.8" cy="998.9" rx="4.7" ry="4.4"/>
<ellipse cx="1625.3" cy="481.9" rx="4.4" ry="4.7"/>
<ellipse cx="1640.8" cy="1163.0" rx="4.1" ry="4.2"/>
<ellipse cx="1604.7" cy="1149.1" rx="4.1" ry="4.3"/>
<ellipse cx="1624.4" cy="1150.2" rx="4.1" ry="4.0"/>
<ellipse cx="1608.3" cy="979.7" rx="4.4" ry="4.1"/>
<ellipse cx="1684.1" cy="498.2" rx="4.1" ry="3.9"/>
<ellipse cx="1602.6" cy="1313.6" rx="4.7" ry="4.5"/>
<ellipse cx="1628.3" cy="570.5" rx="4.0" ry="4.1"/>
<ellipse cx="1674.1" cy="677.3" rx="4.2" ry="4.2"/>
<ellipse cx="1619.9" cy="1248.0" rx="4.7" ry="4.7"/>
<ellipse cx="1582.3" cy="855.5" rx="4.7" ry="4.6"/>
<ellipse cx="1613.8" cy="710.7" rx="4.4" ry="4.5"/>
<ellipse cx="1680.8" cy="1445.3" rx="4.3" ry="4.4"/>
<ellipse cx="1660.6" cy="984.3" rx="4.3" ry="3.8"/>
<ellipse cx="1641.5" cy="755.0" rx="4.0" ry="3.6"/>
<ellipse cx="1662.1" cy="1054.4" rx="4.6" ry="4.8"/>
<ellipse cx="1657.3" cy="891.6" rx="4.1" ry="4.3"/>
<ellipse cx="1643.8" cy="592.7" rx="4.6" ry="4.4"/>
<ellipse cx="1609.1" cy="671.1" rx="4.1" ry="3.7"/>
<ellipse cx="1618.8" cy="515.6" rx="4.2" ry="4.2"/>
<ellipse cx="1641.1" cy="1007.5" rx="4.2" ry="4.2"/>
<ellipse cx="1666.4" cy="1429.0" rx="4.3" ry="4.6"/>
<ellipse cx="1676.7" cy="590.5" rx="4.8" ry="5.3"/>
<ellipse cx="1582.6" cy="769.6" rx="4.1" ry="4.2"/>
<ellipse cx="1603.7" cy="1033.3" rx="4.2" ry="4.4"/>
<ellipse cx="1652.2" cy="636.2" rx="4.3" ry="3.9"/>
<ellipse cx="1577.3" cy="1341.8" rx="4.6" ry="4.2"/>
<ellipse cx="1588.4" cy="1309.6" rx="4.3" ry="4.0"/>
<ellipse cx="1673.6" cy="1175.7" rx="4.7" ry="4.8"/>
<ellipse cx="1655.2" cy="844.5" rx="4.1" ry="3.9"/>
<ellipse cx="1578.9" cy="502.1" rx="4.1" ry="3.8"/>
<ellipse cx="1650.7" cy="1020.5" rx="4.4" ry="4.0"/>
<ellipse cx="1615.0" cy="961.5" rx="4.3" ry="4.0"/>
<ellipse cx="1673.2" cy="463.5" rx="4.4" ry="4.7"/>
<ellipse cx="1612.1" cy="634.9" rx="4.2" ry="4.1"/>
<ellipse cx="1613.1" cy="1015.6" rx="4.6" ry="4.4"/>
<ellipse cx="1636.6" cy="1017.5" rx="4.2" ry="3.9"/>
<ellipse cx="1633.6" cy="1248.0" rx="4.5" ry="4.8"/>
<ellipse cx="1658.8" cy="1470.7" rx="4.4" ry="4.7"/>
<ellipse cx="1610.1" cy="1395.8" rx="4.3" ry="4.5"/>
<ellipse cx="1687.5" cy="684.3" rx="4.2" ry="4.6"/>
<ellipse cx="1663.5" cy="528.6" rx="4.2" ry="4.5"/>
<ellipse cx="1674.4" cy="790.9" rx="4.6" ry="4.2"/>
<ellipse cx="1616.6" cy="1375.7" rx="4.2" ry="4.3"/>
<ellipse cx="1668.7" cy="1088.7" rx="4.6" ry="4.5"/>
<ellipse cx="1683.9" cy="644.2" rx="4.1" ry="3.9"/>
<ellipse cx="1596.9" cy="1180.6" rx="4.1" ry="3.8"/>
<ellipse cx="1636.7" cy="914.7" rx="4.0" ry="3.6"/>
<ellipse cx="1656.9" cy="1037.7" rx="4.5" ry="4.9"/>
<ellipse cx="1619.3" cy="938.0" rx="4.3" ry="3.9"/>
<ellipse cx="1609.6" cy="836.1" rx="4.3" ry="4.4"/>
<ellipse cx="1680.8" cy="1377.3" rx="4.7" ry="4.8"/>
<ellipse cx="1647.6" cy="1229.7" rx="4.0" ry="4.0"/>
<ellipse cx="1580.6" cy="1073.1" rx="4.4" ry="4.0"/>
<ellipse cx="1622.4" cy="650.4" rx="4.5" ry="4.1"/>
<ellipse cx="1673.8" cy="1074.6" rx="4.2" ry="4.5"/>
<ellipse cx="1579.5" cy="1455.5" rx="4.4" ry="4.4"/>
<ellipse cx="1622.0" cy="838.6" rx="4.6" ry="4.7"/>
<ellipse cx="1584.8" cy="1429.5" rx="4.7" ry="4.9"/>
<ellipse cx="1583.8" cy="683.4" rx="4.6" ry="5.0"/>
<ellipse cx="1624.9" cy="782.3" rx="4.5" ry="4.9"/>
<ellipse cx="1622.0" cy="1360.6" rx="4.2" ry="4.2"/>
<ellipse cx="1665.9" cy="1232.6" rx="4.1" ry="4.1"/>
<ellipse cx="1644.6" cy="1439.2" rx="4.5" ry="4.9"/>
<ellipse cx="1656.7" cy="672.7" rx="4.1" ry="4.3"/>
<ellipse cx="1636.7" cy="745.2" rx="4.1" ry="3.7"/>
<ellipse cx="1579.6" cy="1050.3" rx="4.6" ry="4.5"/>
<ellipse cx="1681.9" cy="889.4" rx="4.4" ry="4.4"/>
<ellipse cx="1648.7" cy="552.7" rx="4.2" ry="4.4"/>
<ellipse cx="1652.7" cy="1007.1" rx="4.0" ry="3.7"/>
<ellipse cx="1579.5" cy="976.6" rx="4.6" ry="4.3"/>
<ellipse cx="1640.3" cy="1080.6" rx="4.2" ry="4.4"/>
<ellipse cx="1626.0" cy="1420.5" rx="4.2" ry="4.2"/>
<ellipse cx="1589.6" cy="1196.9" rx="4.6" ry="5.0"/>
<ellipse cx="1616.8" cy="491.8" rx="4.6" ry="4.7"/>
<ellipse cx="1663.8" cy="740.6" rx="4.0" ry="4.3"/>
<ellipse cx="1643.6" cy="1378.3" rx="4.2" ry="4.0"/>
<ellipse cx="1629.3" cy="827.2" rx="4.1" ry="3.8"/>
<ellipse cx="1651.0" cy="600.7" rx="4.2" ry="4.3"/>
<ellipse cx="1600.7" cy="1191.9" rx="4.4" ry="4.4"/>
<ellipse cx="1624.4" cy="1432.6" rx="4.0" ry="3.9"/>
<ellipse cx="1686.4" cy="866.2" rx="4.8" ry="4.4"/>
<ellipse cx="1581.8" cy="605.4" rx="4.2" ry="4.5"/>
<ellipse cx="1629.5" cy="1069.9" rx="4.1" ry="3.8"/>
<ellipse cx="1592.8" cy="1053.3" rx="4.5" ry="4.3"/>
<ellipse cx="1612.6" cy="1408.5" rx="4.1" ry="4.2"/>
<ellipse cx="1683.9" cy="614.4" rx="4.3" ry="3.9"/>
<ellipse cx="1613.0" cy="811.0" rx="4.8" ry="5.1"/>
<ellipse cx="1611.8" cy="1351.5" rx="4.6" ry="4.7"/>
<ellipse cx="1583.4" cy="881.4" rx="4.4" ry="4.1"/>
<ellipse cx="1577.5" cy="1313.4" rx="4.1" ry="4.1"/>
<ellipse cx="1631.8" cy="1319.8" rx="4.2" ry="3.9"/>
<ellipse cx="1642.1" cy="1194.1" rx="4.7" ry="4.5"/>
<ellipse cx="1598.8" cy="1461.6" rx="4.5" ry="4.7"/>
<ellipse cx="1671.7" cy="754.3" rx="4.2" ry="3.8"/>
<ellipse cx="1617.7" cy="679.6" rx="4.1" ry="4.2"/>
<ellipse cx="1611.4" cy="929.7" rx="4.3" ry="4.3"/>
<ellipse cx="1577.4" cy="1228.7" rx="4.3" ry="4.1"/>
<ellipse cx="1646.4" cy="1470.1" rx="4.5" ry="4.7"/>
<ellipse cx="1607.5" cy="769.6" rx="3.9" ry="4.2"/>
<ellipse cx="1645.8" cy="1140.0" rx="4.4" ry="4.8"/>
<ellipse cx="1669.2" cy="718.5" rx="4.0" ry="3.7"/>
<ellipse cx="1593.5" cy="969.3" rx="4.4" ry="4.8"/>
<ellipse cx="1599.5" cy="1071.1" rx="3.9" ry="3.8"/>
<ellipse cx="1636.6" cy="789.2" rx="4.7" ry="4.9"/>
<ellipse cx="1681.3" cy="1410.0" rx="4.6" ry="4.9"/>
<ellipse cx="1580.6" cy="909.9" rx="4.5" ry="4.9"/>
<ellipse cx="1671.9" cy="1113.1" rx="3.9" ry="4.0"/>
<ellipse cx="1678.2" cy="724.6" rx="4.7" ry="5.1"/>
<ellipse cx="1643.8" cy="937.7" rx="4.2" ry="4.2"/>
<ellipse cx="1672.7" cy="1346.5" rx="4.2" ry="4.2"/>
<ellipse cx="1686.6" cy="704.0" rx="4.4" ry="4.5"/>
<ellipse cx="1590.0" cy="465.1" rx="4.4" ry="4.1"/>
<ellipse cx="1686.4" cy="626.0" rx="4.3" ry="4.2"/>
<ellipse cx="1667.0" cy="1033.6" rx="4.6" ry="4.2"/>
<ellipse cx="1584.9" cy="1389.6" rx="4.5" ry="4.9"/>
<ellipse cx="1618.8" cy="665.4" rx="4.5" ry="4.6"/>
<ellipse cx="1628.0" cy="1041.0" rx="4.7" ry="4.6"/>
<ellipse cx="1655.8" cy="1133.8" rx="4.4" ry="4.8"/>
<ellipse cx="1667.3" cy="803.1" rx="4.0" ry="4.0"/>
<ellipse cx="1588.3" cy="1283.8" rx="4.7" ry="5.0"/>
<ellipse cx="1574.4" cy="1384.9" rx="4.3" ry="4.1"/>
<ellipse cx="1674.8" cy="652.6" rx="4.1" ry="3.7"/>
<ellipse cx="1600.4" cy="545.0" rx="4.4" ry="4.4"/>
<ellipse cx="1637.1" cy="1131.7" rx="4.1" ry="4.1"/>
<ellipse cx="1653.0" cy="586.8" rx="3.9" ry="3.6"/>
<ellipse cx="1680.7" cy="801.6" rx="4.2" ry="4.2"/>
<ellipse cx="1645.0" cy="1337.9" rx="4.6" ry="4.4"/>
<ellipse cx="1601.9" cy="572.0" rx="4.7" ry="4.4"/>
<ellipse cx="1662.8" cy="1372.1" rx="4.7" ry="4.5"/>
<ellipse cx="1594.9" cy="1009.4" rx="4.1" ry="4.2"/>
<ellipse cx="1659.2" cy="1065.9" rx="4.1" ry="4.2"/>
<ellipse cx="1614.8" cy="548.7" rx="4.4" ry="4.7"/>
<ellipse cx="1656.2" cy="560.2" rx="4.7" ry="4.3"/>
<ellipse cx="1602.4" cy="1002.0" rx="3.9" ry="4.3"/>
<ellipse cx="1652.1" cy="694.4" rx="4.7" ry="4.8"/>
<ellipse cx="1580.0" cy="794.4" rx="4.5" ry="4.1"/>
<ellipse cx="1590.1" cy="905.0" rx="4.7" ry="5.0"/>
<ellipse cx="1587.6" cy="737.4" rx="4.0" ry="3.9"/>
<ellipse cx="1611.0" cy="796.0" rx="4.0" ry="3.7"/>
<ellipse cx="1579.4" cy="746.7" rx="4.5" ry="4.8"/>
<ellipse cx="1602.2" cy="1384.0" rx="4.1" ry="3.7"/>
<ellipse cx="1624.4" cy="689.7" rx="4.2" ry="4.3"/>
<ellipse cx="1619.0" cy="1068.8" rx="4.3" ry="4.3"/>
<ellipse cx="1660.7" cy="794.3" rx="4.2" ry="4.4"/>
<ellipse cx="1605.4" cy="1239.2" rx="4.3" ry="4.2"/>
<ellipse cx="1596.5" cy="646.8" rx="4.4" ry="4.6"/>
<ellipse cx="1593.5" cy="1344.9" rx="4.5" ry="4.6"/>
<ellipse cx="1674.9" cy="525.0" rx="4.2" ry="3.9"/>
<ellipse cx="1681.7" cy="1469.7" rx="4.1" ry="3.7"/>
<ellipse cx="1583.9" cy="1324.2" rx="4.1" ry="3.7"/>
<ellipse cx="1595.7" cy="933.0" rx="4.8" ry="4.8"/>
<ellipse cx="1633.3" cy="940.6" rx="4.3" ry="4.6"/>
<ellipse cx="1679.3" cy="1322.1" rx="4.4" ry="4.7"/>
<ellipse cx="1628.8" cy="1378.2" rx="3.9" ry="3.8"/>
<ellipse cx="1659.5" cy="614.7" rx="4.2" ry="4.6"/>
<ellipse cx="1681.7" cy="1008.3" rx="4.4" ry="4.7"/>
<ellipse cx="1621.3" cy="972.1" rx="3.9" ry="4.3"/>
<ellipse cx="1623.9" cy="601.8" rx="4.3" ry="4.2"/>
<ellipse cx="1666.6" cy="955.0" rx="4.3" ry="4.1"/>
<ellipse cx="1600.8" cy="1169.4" rx="4.6" ry="4.7"/>
<ellipse cx="1578.5" cy="895.1" rx="4.4" ry="4.0"/>
<ellipse cx="1660.9" cy="781.6" rx="4.1" ry="4.2"/>
<ellipse cx="1654.4" cy="918.5" rx="4.2" ry="4.4"/>
<ellipse cx="1651.9" cy="1219.7" rx="4.0" ry="4.3"/>
<ellipse cx="1655.1" cy="822.0" rx="4.7" ry="4.7"/>
<ellipse cx="1663.1" cy="869.2" rx="4.2" ry="3.8"/>
<ellipse cx="1590.3" cy="625.1" rx="4.7" ry="4.9"/>
<ellipse cx="1585.9" cy="1464.4" rx="4.1" ry="4.1"/>
<ellipse cx="1623.6" cy="1310.9" rx="4.3" ry="4.3"/>
<ellipse cx="1636.1" cy="714.5" rx="4.7" ry="4.7"/>
<ellipse cx="1661.1" cy="1351.5" rx="4.1" ry="3.7"/>
<ellipse cx="1585.9" cy="491.1" rx="4.1" ry="3.7"/>
<ellipse cx="1686.7" cy="1056.4" rx="4.5" ry="4.8"/>
<ellipse cx="1598.3" cy="1394.0" rx="4.4" ry="4.2"/>
<ellipse cx="1611.2" cy="1094.9" rx="4.2" ry="4.0"/>
<ellipse cx="1681.8" cy="1145.4" rx="4.7" ry="4.7"/>
<ellipse cx="1591.2" cy="1064.5" rx="4.8" ry="5.3"/>
<ellipse cx="1623.4" cy="1010.7" rx="3.9" ry="4.1"/>
<ellipse cx="1624.7" cy="1261.2" rx="4.2" ry="4.3"/>
<ellipse cx="1620.4" cy="986.3" rx="4.6" ry="4.3"/>
<ellipse cx="1644.4" cy="680.5" rx="3.9" ry="4.2"/>
<ellipse cx="1595.7" cy="1438.2" rx="4.2" ry="4.5"/>
<ellipse cx="1671.9" cy="834.6" rx="4.7" ry="4.6"/>
<ellipse cx="1659.9" cy="1108.9" rx="4.5" ry="4.3"/>
<ellipse cx="1603.5" cy="1123.1" rx="4.6" ry="4.6"/>
<ellipse cx="1590.1" cy="597.8" rx="4.1" ry="3.8"/>
<ellipse cx="1661.8" cy="1313.7" rx="4.0" ry="4.0"/>
<ellipse cx="1639.5" cy="1177.4" rx="4.8" ry="4.9"/>
<ellipse cx="1652.4" cy="1200.2" rx="4.7" ry="5.1"/>
<ellipse cx="1652.2" cy="573.7" rx="4.2" ry="4.2"/>
<ellipse cx="1684.0" cy="564.0" rx="4.2" ry="4.2"/>
<ellipse cx="1647.6" cy="1428.3" rx="4.8" ry="4.9"/>
<ellipse cx="1665.4" cy="1152.1" rx="4.3" ry="4.3"/>
<ellipse cx="1670.5" cy="1281.0" rx="4.4" ry="4.7"/>
<ellipse cx="1637.6" cy="472.0" rx="4.1" ry="4.1"/>
<ellipse cx="1582.5" cy="694.0" rx="4.4" ry="4.9"/>
<ellipse cx="1599.5" cy="807.1" rx="4.6" ry="4.6"/>
<ellipse cx="1647.0" cy="719.4" rx="4.3" ry="4.0"/>
<ellipse cx="1667.3" cy="667.2" rx="4.3" ry="4.2"/>
<ellipse cx="1648.9" cy="1297.8" rx="4.4" ry="4.4"/>
<ellipse cx="1687.9" cy="1224.1" rx="4.3" ry="4.2"/>
<ellipse cx="1636.6" cy="1422.0" rx="4.6" ry="4.8"/>
<ellipse cx="1634.6" cy="1113.8" rx="4.7" ry="4.7"/>
<ellipse cx="1668.0" cy="1200.5" rx="4.8" ry="5.2"/>
<ellipse cx="1665.1" cy="517.2" rx="4.3" ry="4.2"/>
<ellipse cx="1687.6" cy="1070.7" rx="4.6" ry="5.0"/>
<ellipse cx="1587.5" cy="783.7" rx="4.1" ry="4.4"/>
<ellipse cx="1687.2" cy="813.0" rx="4.2" ry="4.4"/>
<ellipse cx="1597.3" cy="831.9" rx="4.3" ry="4.5"/>
<ellipse cx="1683.7" cy="1335.5" rx="4.2" ry="4.6"/>
<ellipse cx="1682.1" cy="1432.7" rx="4.3" ry="4.2"/>
<ellipse cx="1644.9" cy="925.5" rx="4.6" ry="4.9"/>
<ellipse cx="1601.6" cy="1416.1" rx="4.0" ry="3.7"/>
<ellipse cx="1647.2" cy="1125.2" rx="4.1" ry="4.0"/>
<ellipse cx="1687.8" cy="992.4" rx="4.6" ry="4.6"/>
<ellipse cx="1588.5" cy="1400.8" rx="3.9" ry="3.6"/>
<ellipse cx="1672.4" cy="538.7" rx="4.1" ry="4.0"/>
<ellipse cx="1671.7" cy="1125.7" rx="4.4" ry="4.7"/>
<ellipse cx="1616.7" cy="1469.1" rx="4.2" ry="4.1"/>
<ellipse cx="1658.6" cy="1170.9" rx="4.7" ry="4.9"/>
<ellipse cx="1573.2" cy="1408.8" rx="3.9" ry="3.8"/>
<ellipse cx="1664.6" cy="1394.1" rx="4.0" ry="4.0"/>
<ellipse cx="1687.6" cy="592.5" rx="4.7" ry="4.6"/>
<ellipse cx="1653.7" cy="945.7" rx="4.1" ry="4.3"/>
<ellipse cx="1664.7" cy="1020.8" rx="4.4" ry="4.5"/>
<ellipse cx="1579.8" cy="1300.7" rx="4.8" ry="5.1"/>
<ellipse cx="1578.8" cy="920.9" rx="4.6" ry="5.0"/>
<ellipse cx="1611.8" cy="689.2" rx="4.5" ry="4.4"/>
<ellipse cx="1663.8" cy="815.5" rx="4.2" ry="4.1"/>
<ellipse cx="1687.3" cy="951.7" rx="4.3" ry="4.0"/>
<ellipse cx="1594.2" cy="1110.8" rx="4.3" ry="4.1"/>
<ellipse cx="1628.1" cy="1028.5" rx="4.8" ry="4.5"/>
<ellipse cx="1643.1" cy="520.2" rx="4.4" ry="4.3"/>
<ellipse cx="1625.5" cy="908.2" rx="4.3" ry="4.4"/>
<ellipse cx="1674.1" cy="1042.2" rx="4.2" ry="4.0"/>
<ellipse cx="1665.5" cy="941.3" rx="4.6" ry="4.2"/>
<ellipse cx="1602.7" cy="510.5" rx="4.4" ry="4.1"/>
<ellipse cx="1604.3" cy="705.7" rx="4.1" ry="4.5"/>
<ellipse cx="1604.5" cy="1325.1" rx="4.1" ry="4.2"/>
<ellipse cx="1619.8" cy="1187.5" rx="4.5" ry="4.2"/>
<ellipse cx="1605.4" cy="990.2" rx="4.2" ry="4.6"/>
<ellipse cx="1582.2" cy="823.9" rx="4.7" ry="4.8"/>
<ellipse cx="1687.1" cy="540.6" rx="4.2" ry="4.6"/>
<ellipse cx="1579.1" cy="558.6" rx="3.9" ry="3.7"/>
<ellipse cx="1649.6" cy="761.8" rx="4.5" ry="4.3"/>
<ellipse cx="1686.9" cy="487.3" rx="3.9" ry="3.8"/>
<ellipse cx="1646.9" cy="897.3" rx="4.3" ry="4.6"/>
<ellipse cx="1598.8" cy="1360.2" rx="4.6" ry="4.7"/>
<ellipse cx="1675.8" cy="916.6" rx="4.5" ry="4.6"/>
<ellipse cx="1657.8" cy="1452.9" rx="4.2" ry="4.5"/>
<ellipse cx="1685.9" cy="464.5" rx="4.8" ry="4.9"/>
<ellipse cx="1673.6" cy="1187.3" rx="4.3" ry="3.9"/>
<ellipse cx="1685.7" cy="715.0" rx="4.5" ry="4.9"/>
<ellipse cx="1675.2" cy="867.1" rx="4.0" ry="4.3"/>
<ellipse cx="1642.6" cy="538.0" rx="4.5" ry="4.7"/>
<ellipse cx="1656.6" cy="1092.7" rx="4.6" ry="4.9"/>
<ellipse cx="1613.8" cy="463.3" rx="4.4" ry="4.0"/>
<ellipse cx="1577.2" cy="1196.7" rx="4.3" ry="4.2"/>
<ellipse cx="1657.6" cy="1144.2" rx="4.8" ry="4.9"/>
<ellipse cx="1577.2" cy="515.2" rx="4.6" ry="4.9"/>
<ellipse cx="1585.0" cy="1334.7" rx="3.9" ry="4.1"/>
<ellipse cx="1685.1" cy="853.3" rx="4.4" ry="4.7"/>
<ellipse cx="1638.3" cy="1037.7" rx="4.4" ry="4.8"/>
<ellipse cx="1605.9" cy="1469.7" rx="3.9" ry="4.0"/>
<ellipse cx="1600.2" cy="1294.2" rx="4.6" ry="5.1"/>
<ellipse cx="1591.9" cy="528.8" rx="4.2" ry="3.9"/>
<ellipse cx="1665.3" cy="728.9" rx="4.7" ry="4.3"/>
<ellipse cx="1649.0" cy="1347.8" rx="4.5" ry="4.1"/>
<ellipse cx="1624.0" cy="1446.5" rx="4.0" ry="3.9"/>
<ellipse cx="1635.8" cy="765.4" rx="4.0" ry="3.8"/>
<ellipse cx="1625.6" cy="716.9" rx="4.3" ry="4.2"/>
<ellipse cx="1618.0" cy="1141.9" rx="4.0" ry="4.3"/>
<ellipse cx="1592.5" cy="1214.4" rx="4.4" ry="4.9"/>
<ellipse cx="1619.3" cy="624.7" rx="4.5" ry="4.1"/>
<ellipse cx="1668.2" cy="507.0" rx="4.4" ry="4.7"/>
<ellipse cx="1614.9" cy="1038.4" rx="4.6" ry="4.5"/>
<ellipse cx="1613.2" cy="568.6" rx="4.5" ry="4.8"/>
<ellipse cx="1607.9" cy="941.2" rx="4.0" ry="4.3"/>
<ellipse cx="1644.1" cy="866.3" rx="4.0" ry="4.1"/>
<ellipse cx="1642.1" cy="951.6" rx="4.6" ry="4.4"/>
<ellipse cx="1584.9" cy="1366.5" rx="4.7" ry="5.0"/>
<ellipse cx="1637.5" cy="889.2" rx="4.1" ry="4.1"/>
<ellipse cx="1579.1" cy="470.3" rx="4.0" ry="4.2"/>
<ellipse cx="1641.6" cy="989.8" rx="4.3" ry="4.2"/>
<ellipse cx="1636.1" cy="846.4" rx="4.5" ry="4.5"/>
<ellipse cx="1623.5" cy="1208.4" rx="3.9" ry="4.0"/>
<ellipse cx="1687.4" cy="936.0" rx="4.0" ry="4.0"/>
<ellipse cx="1680.6" cy="1365.6" rx="3.9" ry="3.9"/>
<ellipse cx="1659.8" cy="1300.9" rx="4.3" ry="4.0"/>
<ellipse cx="1684.0" cy="1456.6" rx="4.0" ry="4.1"/>
<ellipse cx="1577.9" cy="866.3" rx="4.6" ry="4.2"/>
<ellipse cx="1656.4" cy="1238.0" rx="4.7" ry="5.2"/>
<ellipse cx="1663.5" cy="1324.4" rx="4.7" ry="4.4"/>
<ellipse cx="1645.4" cy="564.4" rx="4.3" ry="4.5"/>
<ellipse cx="1574.2" cy="1329.5" rx="4.3" ry="4.3"/>
<ellipse cx="1655.1" cy="1406.5" rx="4.6" ry="4.9"/>
<ellipse cx="1604.9" cy="728.4" rx="4.0" ry="4.3"/>
<ellipse cx="1660.8" cy="644.6" rx="4.4" ry="4.0"/>
<ellipse cx="1660.4" cy="964.5" rx="4.2" ry="3.8"/>
<ellipse cx="1602.0" cy="610.2" rx="4.6" ry="4.7"/>
<ellipse cx="1596.7" cy="484.1" rx="4.2" ry="4.4"/>
<ellipse cx="1625.3" cy="894.5" rx="4.3" ry="4.2"/>
<ellipse cx="1602.6" cy="1404.6" rx="4.5" ry="4.3"/>
<ellipse cx="1642.5" cy="1326.7" rx="4.1" ry="4.0"/>
<ellipse cx="1638.2" cy="664.2" rx="4.3" ry="4.4"/>
<ellipse cx="1601.9" cy="1447.7" rx="4.3" ry="4.3"/>
<ellipse cx="1594.6" cy="884.0" rx="4.0" ry="4.2"/>
<ellipse cx="1622.6" cy="1328.2" rx="4.6" ry="4.6"/>
<ellipse cx="1578.0" cy="1133.6" rx="4.7" ry="4.8"/>
<ellipse cx="1627.3" cy="808.0" rx="4.0" ry="3.9"/>
<ellipse cx="1590.4" cy="1077.1" rx="4.1" ry="4.3"/>
<ellipse cx="1669.7" cy="1471.7" rx="4.0" ry="4.1"/>
<ellipse cx="1644.2" cy="979.2" rx="4.0" ry="4.0"/>
<ellipse cx="1638.6" cy="1104.0" rx="4.6" ry="4.3"/>
<ellipse cx="1686.3" cy="1107.6" rx="4.5" ry="4.5"/>
<ellipse cx="1635.4" cy="858.8" rx="4.0" ry="3.8"/>
<ellipse cx="1605.2" cy="968.5" rx="4.6" ry="4.1"/>
<ellipse cx="1632.6" cy="592.9" rx="4.2" ry="4.0"/>
<ellipse cx="1598.1" cy="1248.3" rx="4.5" ry="4.6"/>
<ellipse cx="1601.1" cy="923.0" rx="3.9" ry="4.2"/>
<ellipse cx="1633.9" cy="1089.1" rx="4.0" ry="3.7"/>
<ellipse cx="1659.9" cy="902.3" rx="4.1" ry="3.8"/>
<ellipse cx="1593.9" cy="1423.2" rx="4.2" ry="4.5"/>
<ellipse cx="1614.3" cy="785.3" rx="4.5" ry="4.4"/>
<ellipse cx="1604.0" cy="1215.3" rx="4.4" ry="4.5"/>
<ellipse cx="1592.9" cy="860.1" rx="4.5" ry="4.3"/>
<ellipse cx="1663.9" cy="1181.8" rx="4.4" ry="4.6"/>
<ellipse cx="1577.4" cy="537.8" rx="4.3" ry="4.0"/>
<ellipse cx="1615.4" cy="874.3" rx="4.4" ry="4.1"/>
<ellipse cx="1630.4" cy="1225.7" rx="4.2" ry="4.6"/>
<ellipse cx="1577.3" cy="1061.4" rx="4.6" ry="4.2"/>
<ellipse cx="1609.1" cy="1185.2" rx="4.7" ry="4.3"/>
<ellipse cx="1628.0" cy="1289.7" rx="4.7" ry="5.1"/>
<ellipse cx="1631.3" cy="1302.4" rx="4.3" ry="3.9"/>
<ellipse cx="1642.0" cy="1358.1" rx="4.1" ry="4.2"/>
<ellipse cx="1628.4" cy="1138.0" rx="4.0" ry="3.8"/>
<ellipse cx="1636.8" cy="1203.2" rx="4.7" ry="4.5"/>
<ellipse cx="1687.5" cy="1022.9" rx="4.6" ry="4.5"/>
<ellipse cx="1655.5" cy="474.7" rx="4.5" ry="4.4"/>
<ellipse cx="1677.7" cy="987.5" rx="4.8" ry="4.4"/>
<ellipse cx="1687.2" cy="1186.3" rx="4.2" ry="4.3"/>
<ellipse cx="1683.7" cy="1280.0" rx="4.2" ry="4.3"/>
<ellipse cx="1577.7" cy="1026.6" rx="4.4" ry="4.8"/>
<ellipse cx="1589.1" cy="815.2" rx="4.5" ry="4.5"/>
<ellipse cx="1613.2" cy="476.6" rx="4.3" ry="4.6"/>
<ellipse cx="1580.0" cy="1144.5" rx="4.0" ry="3.8"/>
<ellipse cx="1687.4" cy="1165.5" rx="4.2" ry="4.6"/>
<ellipse cx="1640.7" cy="494.2" rx="4.2" ry="4.5"/>
<ellipse cx="1674.3" cy="735.3" rx="4.4" ry="4.4"/>
<ellipse cx="1591.9" cy="999.2" rx="4.7" ry="5.2"/>
<ellipse cx="1593.7" cy="1235.9" rx="3.9" ry="4.2"/>
<ellipse cx="1615.4" cy="762.1" rx="4.4" ry="4.6"/>
<ellipse cx="1578.6" cy="631.9" rx="4.0" ry="4.1"/>
<ellipse cx="1677.9" cy="956.4" rx="4.6" ry="4.2"/>
<ellipse cx="1679.3" cy="761.7" rx="4.5" ry="4.3"/>
<ellipse cx="1615.9" cy="525.9" rx="4.1" ry="4.5"/>
<ellipse cx="1587.4" cy="673.5" rx="4.1" ry="3.9"/>
<ellipse cx="1624.7" cy="1059.1" rx="4.0" ry="4.2"/>
<ellipse cx="1671.0" cy="885.2" rx="4.5" ry="4.5"/>
<ellipse cx="1632.5" cy="462.5" rx="4.6" ry="5.0"/>
<ellipse cx="1687.6" cy="1045.4" rx="4.5" ry="4.4"/>
<ellipse cx="1577.7" cy="779.7" rx="4.7" ry="5.2"/>
<ellipse cx="1615.1" cy="739.7" rx="4.1" ry="4.2"/>
<ellipse cx="1679.3" cy="899.6" rx="4.8" ry="5.0"/>
<ellipse cx="1643.1" cy="628.9" rx="4.1" ry="4.1"/>
<ellipse cx="1654.4" cy="772.0" rx="4.3" ry="4.3"/>
<ellipse cx="1593.0" cy="689.2" rx="4.2" ry="4.6"/>
<ellipse cx="1613.3" cy="1231.8" rx="4.6" ry="4.5"/>
<ellipse cx="1577.1" cy="1183.2" rx="4.1" ry="4.3"/>
<ellipse cx="1660.8" cy="710.0" rx="4.6" ry="4.3"/>
<ellipse cx="1644.2" cy="822.6" rx="4.6" ry="4.8"/>
<ellipse cx="1635.1" cy="800.7" rx="4.7" ry="4.5"/>
<ellipse cx="1593.6" cy="1471.8" rx="3.9" ry="4.3"/>
</g>
<polygon points="1565.0,1250.7 1569.4,1251.3 1573.9,1252.0 1578.3,1252.9 1582.8,1253.9 1587.2,1254.8 1591.7,1255.8 1596.1,1256.7 1600.6,1257.7 1605.0,1259.0 1609.5,1260.5 1613.9,1262.0 1618.4,1263.5 1622.8,1264.9 1627.3,1263.4 1631.7,1261.7 1636.2,1260.0 1640.6,1258.3 1645.1,1256.5 1649.5,1254.4 1654.0,1252.3 1658.4,1250.1 1662.9,1248.0 1667.3,1246.2 1671.8,1244.8 1676.2,1243.3 1680.7,1241.8 1685.1,1241.1 1689.6,1241.4 1694.0,1241.6 1694.0,1266.0 1689.6,1266.0 1685.1,1266.0 1680.7,1266.6 1676.2,1267.5 1671.8,1268.5 1667.3,1269.5 1662.9,1270.8 1658.4,1272.5 1654.0,1274.2 1649.5,1276.0 1645.1,1277.8 1640.6,1279.9 1636.2,1281.9 1631.7,1284.0 1627.3,1286.0 1622.8,1287.9 1618.4,1286.6 1613.9,1285.3 1609.5,1284.0 1605.0,1282.7 1600.6,1281.4 1596.1,1280.0 1591.7,1278.6 1587.2,1277.2 1582.8,1275.8 1578.3,1274.4 1573.9,1273.0 1569.4,1272.3 1565.0,1271.7" fill="#080808" filter="url(#b2)"/>
</g>
<clipPath id="c3"><polygon points="1817.0,385.0 1823.0,420.0 1827.0,450.0 1829.0,550.0 1829.0,880.0 1826.0,915.0 1820.0,950.0 1810.0,985.0 1804.0,1011.0 1976.0,1011.0 1968.0,950.0 1969.0,500.0 1973.0,450.0 1979.0,420.0 1987.0,385.0"/></clipPath>
<g>
<rect x="1804" y="368" width="190" height="645" fill="#000"/>
<g clip-path="url(#c3)">
<rect x="1804" y="385" width="190" height="628" fill="#080808"/>
<polygon points="1810,380 1990,380 1990,880 1960,884 1900,892 1829,886 1810,886" fill="#1b1b1b" filter="url(#b4)"/>
<g fill="#a0a0a0" filter="url(#b3)">
<ellipse cx="1912.4" cy="780.6" rx="3.2" ry="3.7"/>
<ellipse cx="1959.2" cy="560.2" rx="3.1" ry="3.7"/>
<ellipse cx="1927.9" cy="941.2" rx="3.5" ry="4.0"/>
<ellipse cx="1927.8" cy="771.2" rx="3.5" ry="3.9"/>
<ellipse cx="1899.6" cy="988.0" rx="3.7" ry="3.6"/>
<ellipse cx="1904.4" cy="664.5" rx="3.6" ry="3.8"/>
<ellipse cx="1861.2" cy="580.1" rx="3.6" ry="3.9"/>
<ellipse cx="1898.3" cy="420.7" rx="3.6" ry="3.7"/>
<ellipse cx="1919.4" cy="845.0" rx="3.1" ry="3.1"/>
<ellipse cx="1885.0" cy="913.7" rx="3.2" ry="3.4"/>
<ellipse cx="1933.5" cy="460.8" rx="3.6" ry="4.1"/>
<ellipse cx="1814.6" cy="996.6" rx="3.5" ry="3.6"/>
<ellipse cx="1858.0" cy="520.5" rx="3.6" ry="3.6"/>
<ellipse cx="1861.8" cy="632.8" rx="3.3" ry="3.3"/>
<ellipse cx="1839.2" cy="456.4" rx="3.6" ry="3.5"/>
<ellipse cx="1946.0" cy="735.5" rx="3.3" ry="3.2"/>
<ellipse cx="1842.6" cy="507.8" rx="3.5" ry="3.8"/>
<ellipse cx="1928.2" cy="672.3" rx="3.1" ry="3.0"/>
<ellipse cx="1894.0" cy="610.4" rx="3.3" ry="3.9"/>
<ellipse cx="1906.4" cy="875.6" rx="3.2" ry="3.7"/>
<ellipse cx="1862.5" cy="431.6" rx="3.6" ry="4.0"/>
<ellipse cx="1895.4" cy="623.5" rx="3.2" ry="3.5"/>
<ellipse cx="1952.3" cy="456.9" rx="3.7" ry="4.2"/>
<ellipse cx="1969.8" cy="397.2" rx="3.1" ry="3.0"/>
<ellipse cx="1863.9" cy="940.0" rx="3.7" ry="3.9"/>
<ellipse cx="1937.4" cy="489.4" rx="3.7" ry="3.7"/>
<ellipse cx="1898.0" cy="768.2" rx="3.4" ry="3.4"/>
<ellipse cx="1891.9" cy="650.1" rx="3.7" ry="4.3"/>
<ellipse cx="1900.3" cy="549.8" rx="3.3" ry="3.3"/>
<ellipse cx="1970.5" cy="985.2" rx="3.2" ry="3.6"/>
<ellipse cx="1895.6" cy="400.8" rx="3.3" ry="3.8"/>
<ellipse cx="1879.5" cy="886.7" rx="3.1" ry="3.3"/>
<ellipse cx="1865.7" cy="453.6" rx="3.5" ry="4.2"/>
<ellipse cx="1839.2" cy="830.0" rx="3.7" ry="4.2"/>
<ellipse cx="1922.2" cy="565.7" rx="3.2" ry="3.8"/>
<ellipse cx="1922.5" cy="860.4" rx="3.7" ry="4.4"/>
<ellipse cx="1946.6" cy="752.3" rx="3.3" ry="3.7"/>
<ellipse cx="1901.2" cy="916.0" rx="3.1" ry="3.6"/>
<ellipse cx="1847.3" cy="445.2" rx="3.2" ry="3.5"/>
<ellipse cx="1855.4" cy="750.3" rx="3.2" ry="3.4"/>
<ellipse cx="1912.9" cy="511.3" rx="3.5" ry="3.6"/>
<ellipse cx="1839.8" cy="978.0" rx="3.7" ry="4.1"/>
<ellipse cx="1882.5" cy="957.2" rx="3.6" ry="3.6"/>
<ellipse cx="1958.6" cy="473.8" rx="3.5" ry="4.0"/>
<ellipse cx="1944.7" cy="926.5" rx="3.3" ry="3.4"/>
<ellipse cx="1921.6" cy="591.0" rx="3.2" ry="3.2"/>
<ellipse cx="1868.4" cy="695.8" rx="3.6" ry="3.7"/>
<ellipse cx="1889.5" cy="513.6" rx="3.1" ry="3.3"/>
<ellipse cx="1882.8" cy="468.8" rx="3.2" ry="3.2"/>
<ellipse cx="1956.0" cy="726.3" rx="3.1" ry="3.1"/>
<ellipse cx="1891.4" cy="784.9" rx="3.2" ry="3.6"/>
<ellipse cx="1848.6" cy="402.5" rx="3.7" ry="4.3"/>
<ellipse cx="1872.6" cy="544.9" rx="3.5" ry="3.9"/>
<ellipse cx="1862.2" cy="905.7" rx="3.2" ry="3.2"/>
<ellipse cx="1941.7" cy="527.4" rx="3.5" ry="3.7"/>
<ellipse cx="1826.2" cy="990.9" rx="3.6" ry="4.1"/>
<ellipse cx="1926.6" cy="982.0" rx="3.6" ry="4.0"/>
<ellipse cx="1955.0" cy="708.4" rx="3.5" ry="3.7"/>
<ellipse cx="1954.0" cy="627.6" rx="3.5" ry="4.0"/>
<ellipse cx="1970.5" cy="436.2" rx="3.1" ry="3.4"/>
<ellipse cx="1922.5" cy="505.1" rx="3.3" ry="3.4"/>
<ellipse cx="1841.9" cy="936.4" rx="3.6" ry="4.3"/>
<ellipse cx="1858.0" cy="841.5" rx="3.6" ry="3.4"/>
<ellipse cx="1848.6" cy="803.0" rx="3.1" ry="3.7"/>
<ellipse cx="1888.4" cy="636.0" rx="3.6" ry="3.8"/>
<ellipse cx="1834.1" cy="523.7" rx="3.7" ry="4.3"/>
<ellipse cx="1876.9" cy="684.0" rx="3.5" ry="4.1"/>
<ellipse cx="1837.3" cy="651.6" rx="3.6" ry="3.6"/>
<ellipse cx="1912.1" cy="444.9" rx="3.2" ry="3.4"/>
<ellipse cx="1970.0" cy="1004.5" rx="3.3" ry="3.4"/>
<ellipse cx="1876.7" cy="752.5" rx="3.4" ry="3.3"/>
<ellipse cx="1954.2" cy="1005.5" rx="3.4" ry="4.1"/>
<ellipse cx="1897.8" cy="702.6" rx="3.4" ry="3.5"/>
<ellipse cx="1863.0" cy="723.4" rx="3.4" ry="3.4"/>
<ellipse cx="1907.3" cy="563.8" rx="3.5" ry="3.4"/>
<ellipse cx="1848.8" cy="545.6" rx="3.6" ry="4.0"/>
<ellipse cx="1861.9" cy="921.1" rx="3.4" ry="3.7"/>
<ellipse cx="1956.8" cy="508.9" rx="3.2" ry="3.6"/>
<ellipse cx="1889.6" cy="899.2" rx="3.4" ry="3.4"/>
<ellipse cx="1850.7" cy="761.7" rx="3.3" ry="3.4"/>
<ellipse cx="1960.5" cy="791.7" rx="3.3" ry="3.8"/>
<ellipse cx="1922.0" cy="901.5" rx="3.3" ry="3.9"/>
<ellipse cx="1866.4" cy="791.6" rx="3.7" ry="4.0"/>
<ellipse cx="1975.1" cy="407.3" rx="3.6" ry="3.7"/>
<ellipse cx="1940.1" cy="426.8" rx="3.1" ry="3.3"/>
<ellipse cx="1883.3" cy="584.6" rx="3.7" ry="3.9"/>
<ellipse cx="1908.5" cy="846.5" rx="3.6" ry="3.6"/>
<ellipse cx="1931.4" cy="549.0" rx="3.6" ry="4.2"/>
<ellipse cx="1886.0" cy="595.2" rx="3.5" ry="3.9"/>
<ellipse cx="1939.9" cy="469.6" rx="3.4" ry="3.6"/>
<ellipse cx="1837.6" cy="891.0" rx="3.1" ry="3.4"/>
<ellipse cx="1860.4" cy="590.1" rx="3.7" ry="4.0"/>
<ellipse cx="1916.5" cy="427.4" rx="3.4" ry="3.5"/>
<ellipse cx="1905.7" cy="750.5" rx="3.5" ry="4.0"/>
<ellipse cx="1882.2" cy="491.0" rx="3.2" ry="3.3"/>
<ellipse cx="1835.3" cy="718.6" rx="3.7" ry="4.4"/>
<ellipse cx="1842.0" cy="785.0" rx="3.1" ry="3.6"/>
<ellipse cx="1948.3" cy="395.3" rx="3.5" ry="4.0"/>
<ellipse cx="1868.0" cy="837.1" rx="3.3" ry="3.2"/>
<ellipse cx="1947.4" cy="603.4" rx="3.3" ry="3.3"/>
<ellipse cx="1930.3" cy="439.5" rx="3.1" ry="3.1"/>
<ellipse cx="1908.4" cy="636.4" rx="3.7" ry="3.9"/>
<ellipse cx="1923.7" cy="790.6" rx="3.3" ry="3.3"/>
<ellipse cx="1920.1" cy="831.4" rx="3.6" ry="3.7"/>
<ellipse cx="1945.6" cy="969.9" rx="3.3" ry="3.7"/>
<ellipse cx="1921.9" cy="932.1" rx="3.6" ry="4.1"/>
<ellipse cx="1944.7" cy="624.1" rx="3.5" ry="3.6"/>
<ellipse cx="1956.5" cy="614.8" rx="3.7" ry="4.1"/>
<ellipse cx="1961.4" cy="933.9" rx="3.7" ry="3.7"/>
<ellipse cx="1935.6" cy="697.4" rx="3.4" ry="4.0"/>
<ellipse cx="1858.8" cy="784.9" rx="3.6" ry="3.9"/>
<ellipse cx="1844.0" cy="858.2" rx="3.3" ry="3.3"/>
<ellipse cx="1908.9" cy="904.7" rx="3.3" ry="3.3"/>
<ellipse cx="1851.1" cy="879.3" rx="3.6" ry="3.4"/>
<ellipse cx="1907.9" cy="858.7" rx="3.3" ry="3.4"/>
<ellipse cx="1897.8" cy="815.1" rx="3.7" ry="3.8"/>
<ellipse cx="1872.3" cy="622.4" rx="3.6" ry="3.7"/>
<ellipse cx="1903.0" cy="389.2" rx="3.2" ry="3.2"/>
<ellipse cx="1842.1" cy="605.9" rx="3.1" ry="3.3"/>
<ellipse cx="1850.3" cy="1003.1" rx="3.4" ry="3.8"/>
<ellipse cx="1927.7" cy="643.1" rx="3.1" ry="3.1"/>
<ellipse cx="1952.8" cy="832.0" rx="3.2" ry="3.0"/>
<ellipse cx="1852.6" cy="614.6" rx="3.1" ry="3.0"/>
<ellipse cx="1836.2" cy="402.5" rx="3.7" ry="4.4"/>
<ellipse cx="1837.1" cy="688.1" rx="3.1" ry="3.4"/>
<ellipse cx="1879.5" cy="874.0" rx="3.7" ry="4.4"/>
<ellipse cx="1897.6" cy="437.9" rx="3.2" ry="3.7"/>
<ellipse cx="1937.5" cy="896.2" rx="3.2" ry="3.2"/>
<ellipse cx="1875.8" cy="772.2" rx="3.5" ry="3.9"/>
<ellipse cx="1874.5" cy="515.8" rx="3.4" ry="3.3"/>
<ellipse cx="1955.6" cy="975.5" rx="3.3" ry="3.6"/>
<ellipse cx="1846.5" cy="813.3" rx="3.5" ry="4.1"/>
<ellipse cx="1846.8" cy="489.0" rx="3.5" ry="4.0"/>
<ellipse cx="1957.7" cy="638.2" rx="3.2" ry="3.8"/>
<ellipse cx="1951.1" cy="661.5" rx="3.3" ry="3.5"/>
<ellipse cx="1864.6" cy="984.6" rx="3.2" ry="3.7"/>
<ellipse cx="1910.5" cy="995.9" rx="3.2" ry="3.4"/>
<ellipse cx="1951.0" cy="853.1" rx="3.4" ry="3.7"/>
<ellipse cx="1945.4" cy="437.4" rx="3.6" ry="3.6"/>
<ellipse cx="1895.1" cy="889.8" rx="3.6" ry="4.1"/>
<ellipse cx="1866.6" cy="670.1" rx="3.1" ry="3.1"/>
<ellipse cx="1891.3" cy="1002.5" rx="3.1" ry="3.4"/>
<ellipse cx="1981.4" cy="389.0" rx="3.5" ry="4.2"/>
<ellipse cx="1921.4" cy="473.4" rx="3.4" ry="3.3"/>
<ellipse cx="1892.4" cy="870.8" rx="3.2" ry="3.2"/>
<ellipse cx="1898.3" cy="635.1" rx="3.7" ry="4.3"/>
<ellipse cx="1891.9" cy="748.4" rx="3.5" ry="3.7"/>
<ellipse cx="1874.5" cy="985.1" rx="3.5" ry="4.1"/>
<ellipse cx="1910.7" cy="612.9" rx="3.4" ry="3.7"/>
<ellipse cx="1928.0" cy="403.4" rx="3.5" ry="3.6"/>
<ellipse cx="1967.1" cy="969.5" rx="3.3" ry="3.6"/>
<ellipse cx="1936.0" cy="597.3" rx="3.2" ry="3.4"/>
<ellipse cx="1930.1" cy="1002.4" rx="3.6" ry="3.8"/>
<ellipse cx="1918.4" cy="872.6" rx="3.6" ry="3.6"/>
<ellipse cx="1882.4" cy="821.8" rx="3.3" ry="3.6"/>
<ellipse cx="1878.2" cy="645.1" rx="3.5" ry="4.2"/>
<ellipse cx="1892.4" cy="953.3" rx="3.2" ry="3.4"/>
<ellipse cx="1856.3" cy="500.8" rx="3.3" ry="3.6"/>
<ellipse cx="1849.3" cy="901.7" rx="3.5" ry="3.4"/>
<ellipse cx="1914.7" cy="714.3" rx="3.7" ry="4.3"/>
<ellipse cx="1957.0" cy="496.3" rx="3.2" ry="3.4"/>
<ellipse cx="1946.9" cy="671.6" rx="3.1" ry="3.3"/>
<ellipse cx="1964.7" cy="450.3" rx="3.5" ry="4.2"/>
<ellipse cx="1892.4" cy="667.2" rx="3.3" ry="3.2"/>
<ellipse cx="1932.9" cy="966.0" rx="3.5" ry="3.9"/>
<ellipse cx="1933.3" cy="917.8" rx="3.1" ry="3.4"/>
<ellipse cx="1960.6" cy="864.1" rx="3.5" ry="4.2"/>
<ellipse cx="1942.2" cy="764.5" rx="3.4" ry="3.8"/>
<ellipse cx="1840.4" cy="675.7" rx="3.2" ry="3.8"/>
<ellipse cx="1886.8" cy="480.5" rx="3.6" ry="4.1"/>
<ellipse cx="1966.0" cy="919.3" rx="3.1" ry="3.0"/>
<ellipse cx="1946.7" cy="409.5" rx="3.7" ry="4.1"/>
<ellipse cx="1862.7" cy="411.8" rx="3.7" ry="4.3"/>
<ellipse cx="1832.5" cy="559.8" rx="3.7" ry="4.3"/>
<ellipse cx="1836.7" cy="947.7" rx="3.5" ry="3.3"/>
<ellipse cx="1881.7" cy="945.0" rx="3.4" ry="3.8"/>
<ellipse cx="1922.8" cy="612.0" rx="3.7" ry="3.6"/>
<ellipse cx="1957.6" cy="676.0" rx="3.4" ry="3.5"/>
<ellipse cx="1916.0" cy="670.6" rx="3.5" ry="4.0"/>
<ellipse cx="1899.0" cy="799.4" rx="3.2" ry="3.1"/>
<ellipse cx="1913.0" cy="769.8" rx="3.3" ry="3.5"/>
<ellipse cx="1852.8" cy="961.8" rx="3.4" ry="4.0"/>
<ellipse cx="1883.0" cy="790.9" rx="3.3" ry="3.7"/>
<ellipse cx="1860.3" cy="708.0" rx="3.5" ry="3.7"/>
<ellipse cx="1954.6" cy="891.5" rx="3.5" ry="3.4"/>
<ellipse cx="1961.3" cy="883.8" rx="3.5" ry="3.6"/>
<ellipse cx="1905.7" cy="468.1" rx="3.7" ry="3.8"/>
<ellipse cx="1901.3" cy="781.2" rx="3.7" ry="4.1"/>
<ellipse cx="1917.3" cy="399.8" rx="3.5" ry="3.3"/>
<ellipse cx="1869.6" cy="601.3" rx="3.4" ry="3.4"/>
<ellipse cx="1894.6" cy="938.0" rx="3.4" ry="3.3"/>
<ellipse cx="1867.1" cy="680.0" rx="3.7" ry="3.7"/>
<ellipse cx="1911.6" cy="971.1" rx="3.4" ry="3.6"/>
<ellipse cx="1920.1" cy="535.2" rx="3.6" ry="3.8"/>
<ellipse cx="1853.3" cy="864.4" rx="3.1" ry="3.2"/>
<ellipse cx="1955.0" cy="580.4" rx="3.3" ry="3.8"/>
<ellipse cx="1846.9" cy="655.3" rx="3.4" ry="3.7"/>
<ellipse cx="1845.7" cy="703.5" rx="3.3" ry="3.5"/>
<ellipse cx="1845.2" cy="527.5" rx="3.4" ry="3.2"/>
<ellipse cx="1881.7" cy="457.5" rx="3.3" ry="3.6"/>
<ellipse cx="1923.3" cy="817.9" rx="3.3" ry="3.8"/>
<ellipse cx="1846.5" cy="471.7" rx="3.4" ry="3.4"/>
<ellipse cx="1841.3" cy="430.9" rx="3.5" ry="3.4"/>
<ellipse cx="1840.4" cy="752.8" rx="3.2" ry="3.6"/>
<ellipse cx="1930.8" cy="519.7" rx="3.7" ry="3.7"/>
<ellipse cx="1938.6" cy="856.2" rx="3.4" ry="3.5"/>
<ellipse cx="1892.5" cy="841.0" rx="3.7" ry="4.3"/>
<ellipse cx="1967.0" cy="415.6" rx="3.4" ry="3.2"/>
<ellipse cx="1897.1" cy="715.7" rx="3.1" ry="3.1"/>
<ellipse cx="1936.1" cy="796.0" rx="3.2" ry="3.1"/>
<ellipse cx="1937.9" cy="977.0" rx="3.3" ry="3.3"/>
<ellipse cx="1937.1" cy="658.4" rx="3.3" ry="3.5"/>
<ellipse cx="1955.2" cy="774.2" rx="3.5" ry="3.4"/>
<ellipse cx="1821.5" cy="965.0" rx="3.5" ry="3.4"/>
<ellipse cx="1828.8" cy="930.5" rx="3.7" ry="3.8"/>
<ellipse cx="1938.2" cy="785.5" rx="3.6" ry="3.5"/>
<ellipse cx="1913.2" cy="800.8" rx="3.2" ry="3.4"/>
<ellipse cx="1917.4" cy="648.6" rx="3.1" ry="3.1"/>
<ellipse cx="1943.1" cy="554.5" rx="3.2" ry="3.8"/>
<ellipse cx="1891.3" cy="976.0" rx="3.7" ry="3.6"/>
<ellipse cx="1924.9" cy="696.5" rx="3.3" ry="3.9"/>
<ellipse cx="1914.8" cy="600.9" rx="3.3" ry="3.7"/>
<ellipse cx="1835.6" cy="637.2" rx="3.3" ry="3.8"/>
<ellipse cx="1912.0" cy="983.4" rx="3.5" ry="3.6"/>
<ellipse cx="1867.0" cy="397.3" rx="3.5" ry="3.9"/>
<ellipse cx="1831.4" cy="602.3" rx="3.5" ry="4.0"/>
<ellipse cx="1867.0" cy="857.7" rx="3.5" ry="4.0"/>
<ellipse cx="1960.8" cy="825.0" rx="3.7" ry="3.8"/>
<ellipse cx="1859.0" cy="652.0" rx="3.1" ry="3.5"/>
<ellipse cx="1869.3" cy="469.3" rx="3.5" ry="3.7"/>
<ellipse cx="1850.5" cy="993.1" rx="3.6" ry="3.9"/>
<ellipse cx="1847.9" cy="692.8" rx="3.2" ry="3.1"/>
<ellipse cx="1858.9" cy="815.8" rx="3.6" ry="4.3"/>
<ellipse cx="1923.0" cy="488.9" rx="3.6" ry="3.9"/>
<ellipse cx="1938.8" cy="843.9" rx="3.3" ry="3.5"/>
<ellipse cx="1842.6" cy="619.3" rx="3.5" ry="3.4"/>
<ellipse cx="1919.2" cy="963.7" rx="3.4" ry="4.1"/>
<ellipse cx="1845.6" cy="843.7" rx="3.5" ry="3.9"/>
<ellipse cx="1832.0" cy="1001.0" rx="3.6" ry="4.3"/>
<ellipse cx="1869.3" cy="1008.8" rx="3.6" ry="3.8"/>
<ellipse cx="1875.9" cy="428.2" rx="3.6" ry="3.9"/>
<ellipse cx="1896.7" cy="489.2" rx="3.6" ry="3.5"/>
<ellipse cx="1961.6" cy="654.8" rx="3.5" ry="3.8"/>
<ellipse cx="1922.2" cy="732.4" rx="3.2" ry="3.4"/>
<ellipse cx="1941.6" cy="506.2" rx="3.4" ry="3.8"/>
<ellipse cx="1935.2" cy="537.5" rx="3.2" ry="3.1"/>
<ellipse cx="1852.1" cy="947.9" rx="3.5" ry="4.1"/>
<ellipse cx="1858.5" cy="474.6" rx="3.7" ry="4.0"/>
<ellipse cx="1849.2" cy="590.9" rx="3.1" ry="3.3"/>
<ellipse cx="1945.6" cy="947.6" rx="3.5" ry="3.9"/>
<ellipse cx="1942.5" cy="1005.5" rx="3.3" ry="3.6"/>
<ellipse cx="1835.4" cy="490.9" rx="3.5" ry="3.3"/>
<ellipse cx="1849.2" cy="718.9" rx="3.7" ry="4.2"/>
<ellipse cx="1874.9" cy="527.8" rx="3.7" ry="4.3"/>
<ellipse cx="1920.3" cy="951.3" rx="3.1" ry="3.6"/>
<ellipse cx="1930.4" cy="832.1" rx="3.1" ry="3.6"/>
<ellipse cx="1894.5" cy="679.1" rx="3.4" ry="3.4"/>
<ellipse cx="1896.0" cy="733.1" rx="3.2" ry="3.1"/>
<ellipse cx="1831.2" cy="743.7" rx="3.5" ry="3.3"/>
<ellipse cx="1951.9" cy="536.1" rx="3.4" ry="3.5"/>
<ellipse cx="1953.6" cy="904.2" rx="3.1" ry="2.9"/>
<ellipse cx="1880.1" cy="664.0" rx="3.2" ry="3.8"/>
<ellipse cx="1867.5" cy="997.7" rx="3.7" ry="4.0"/>
<ellipse cx="1851.9" cy="511.8" rx="3.5" ry="3.6"/>
<ellipse cx="1909.6" cy="1006.5" rx="3.3" ry="3.9"/>
<ellipse cx="1965.5" cy="535.9" rx="3.5" ry="4.2"/>
<ellipse cx="1876.1" cy="737.7" rx="3.1" ry="3.1"/>
<ellipse cx="1913.6" cy="549.9" rx="3.1" ry="3.2"/>
<ellipse cx="1912.4" cy="684.6" rx="3.7" ry="4.1"/>
<ellipse cx="1946.6" cy="937.2" rx="3.3" ry="3.6"/>
<ellipse cx="1834.4" cy="905.3" rx="3.4" ry="3.8"/>
<ellipse cx="1962.6" cy="946.0" rx="3.4" ry="3.8"/>
<ellipse cx="1939.5" cy="958.4" rx="3.4" ry="3.8"/>
<ellipse cx="1868.7" cy="822.3" rx="3.1" ry="3.4"/>
<ellipse cx="1845.5" cy="421.9" rx="3.4" ry="3.5"/>
<ellipse cx="1880.1" cy="447.7" rx="3.6" ry="3.8"/>
<ellipse cx="1872.2" cy="920.3" rx="3.5" ry="4.2"/>
<ellipse cx="1908.5" cy="821.9" rx="3.5" ry="3.7"/>
<ellipse cx="1871.3" cy="589.5" rx="3.7" ry="4.3"/>
<ellipse cx="1865.4" cy="556.9" rx="3.4" ry="3.8"/>
<ellipse cx="1869.4" cy="969.0" rx="3.6" ry="3.9"/>
<ellipse cx="1833.3" cy="571.5" rx="3.5" ry="4.0"/>
<ellipse cx="1858.7" cy="446.1" rx="3.4" ry="3.7"/>
<ellipse cx="1932.9" cy="990.5" rx="3.1" ry="3.5"/>
<ellipse cx="1944.9" cy="641.9" rx="3.2" ry="3.6"/>
<ellipse cx="1960.2" cy="525.6" rx="3.1" ry="3.3"/>
<ellipse cx="1839.2" cy="917.6" rx="3.1" ry="3.4"/>
<ellipse cx="1906.1" cy="790.7" rx="3.4" ry="3.8"/>
<ellipse cx="1886.9" cy="801.1" rx="3.6" ry="3.9"/>
<ellipse cx="1915.5" cy="629.3" rx="3.5" ry="3.7"/>
<ellipse cx="1958.8" cy="763.6" rx="3.6" ry="4.3"/>
<ellipse cx="1843.3" cy="578.5" rx="3.4" ry="3.5"/>
<ellipse cx="1861.2" cy="540.0" rx="3.2" ry="3.8"/>
<ellipse cx="1948.6" cy="692.8" rx="3.6" ry="3.6"/>
<ellipse cx="1932.3" cy="565.2" rx="3.6" ry="4.2"/>
<ellipse cx="1834.4" cy="444.8" rx="3.3" ry="3.2"/>
<ellipse cx="1933.1" cy="929.4" rx="3.3" ry="3.9"/>
<ellipse cx="1837.9" cy="735.1" rx="3.7" ry="3.8"/>
<ellipse cx="1875.5" cy="800.5" rx="3.5" ry="3.9"/>
<ellipse cx="1897.0" cy="528.7" rx="3.5" ry="3.5"/>
<ellipse cx="1891.5" cy="554.5" rx="3.3" ry="3.9"/>
<ellipse cx="1938.1" cy="719.8" rx="3.2" ry="3.5"/>
<ellipse cx="1958.6" cy="960.6" rx="3.1" ry="3.4"/>
<ellipse cx="1861.8" cy="803.4" rx="3.7" ry="4.0"/>
<ellipse cx="1957.6" cy="742.6" rx="3.5" ry="3.5"/>
<ellipse cx="1906.1" cy="647.5" rx="3.4" ry="3.7"/>
<ellipse cx="1866.0" cy="505.5" rx="3.7" ry="3.8"/>
<ellipse cx="1931.7" cy="748.2" rx="3.7" ry="3.7"/>
<ellipse cx="1940.5" cy="817.4" rx="3.5" ry="3.7"/>
<ellipse cx="1947.8" cy="715.6" rx="3.4" ry="3.8"/>
<ellipse cx="1928.4" cy="804.3" rx="3.7" ry="4.3"/>
<ellipse cx="1883.6" cy="710.1" rx="3.4" ry="3.5"/>
<ellipse cx="1833.2" cy="533.7" rx="3.2" ry="3.1"/>
<ellipse cx="1868.1" cy="491.4" rx="3.4" ry="3.5"/>
<ellipse cx="1882.6" cy="674.3" rx="3.6" ry="4.2"/>
<ellipse cx="1956.3" cy="801.1" rx="3.5" ry="3.6"/>
<ellipse cx="1932.0" cy="871.8" rx="3.7" ry="3.7"/>
<ellipse cx="1934.2" cy="614.8" rx="3.6" ry="3.8"/>
<ellipse cx="1816.1" cy="1006.5" rx="3.2" ry="3.7"/>
<ellipse cx="1883.0" cy="847.8" rx="3.1" ry="3.1"/>
<ellipse cx="1964.5" cy="546.3" rx="3.4" ry="3.9"/>
<ellipse cx="1906.8" cy="522.8" rx="3.3" ry="3.6"/>
<ellipse cx="1869.4" cy="442.6" rx="3.4" ry="3.4"/>
<ellipse cx="1875.2" cy="931.0" rx="3.6" ry="4.3"/>
<ellipse cx="1905.7" cy="737.7" rx="3.7" ry="3.6"/>
<ellipse cx="1949.5" cy="566.7" rx="3.5" ry="4.2"/>
<ellipse cx="1925.7" cy="415.4" rx="3.5" ry="4.1"/>
<ellipse cx="1850.0" cy="827.3" rx="3.5" ry="3.4"/>
<ellipse cx="1897.2" cy="589.3" rx="3.2" ry="3.5"/>
<ellipse cx="1910.9" cy="704.7" rx="3.7" ry="4.1"/>
<ellipse cx="1837.4" cy="988.4" rx="3.5" ry="3.9"/>
<ellipse cx="1883.2" cy="421.2" rx="3.5" ry="3.5"/>
<ellipse cx="1862.9" cy="870.0" rx="3.4" ry="3.8"/>
<ellipse cx="1851.2" cy="972.6" rx="3.1" ry="3.3"/>
<ellipse cx="1967.7" cy="466.7" rx="3.6" ry="4.3"/>
<ellipse cx="1858.8" cy="604.2" rx="3.5" ry="3.5"/>
<ellipse cx="1911.5" cy="415.5" rx="3.1" ry="3.4"/>
<ellipse cx="1841.4" cy="967.4" rx="3.6" ry="4.3"/>
<ellipse cx="1900.9" cy="508.5" rx="3.3" ry="3.1"/>
<ellipse cx="1917.3" cy="523.6" rx="3.5" ry="3.8"/>
<ellipse cx="1880.9" cy="860.4" rx="3.2" ry="3.2"/>
<ellipse cx="1864.8" cy="529.4" rx="3.6" ry="4.4"/>
<ellipse cx="1960.2" cy="392.1" rx="3.3" ry="3.7"/>
<ellipse cx="1829.8" cy="470.0" rx="3.1" ry="3.1"/>
<ellipse cx="1871.2" cy="655.5" rx="3.2" ry="3.2"/>
<ellipse cx="1890.0" cy="449.1" rx="3.6" ry="4.3"/>
<ellipse cx="1825.1" cy="418.6" rx="3.6" ry="3.6"/>
<ellipse cx="1958.5" cy="689.8" rx="3.4" ry="3.7"/>
<ellipse cx="1926.9" cy="622.6" rx="3.2" ry="3.6"/>
<ellipse cx="1902.4" cy="977.0" rx="3.1" ry="3.5"/>
<ellipse cx="1866.7" cy="756.6" rx="3.1" ry="3.0"/>
<ellipse cx="1855.1" cy="680.7" rx="3.7" ry="3.5"/>
<ellipse cx="1920.4" cy="389.0" rx="3.7" ry="3.6"/>
<ellipse cx="1848.6" cy="642.2" rx="3.1" ry="3.4"/>
<ellipse cx="1898.4" cy="848.9" rx="3.1" ry="3.0"/>
<ellipse cx="1916.6" cy="742.4" rx="3.1" ry="3.4"/>
<ellipse cx="1941.4" cy="683.6" rx="3.2" ry="3.3"/>
<ellipse cx="1884.6" cy="767.8" rx="3.2" ry="3.6"/>
<ellipse cx="1955.1" cy="994.6" rx="3.7" ry="4.3"/>
<ellipse cx="1947.5" cy="916.3" rx="3.1" ry="2.9"/>
<ellipse cx="1835.4" cy="416.5" rx="3.1" ry="3.3"/>
<ellipse cx="1879.6" cy="999.0" rx="3.3" ry="3.2"/>
<ellipse cx="1870.9" cy="959.1" rx="3.1" ry="3.2"/>
<ellipse cx="1878.2" cy="504.3" rx="3.5" ry="4.0"/>
<ellipse cx="1820.6" cy="388.1" rx="3.3" ry="3.3"/>
<ellipse cx="1860.1" cy="733.8" rx="3.2" ry="3.6"/>
<ellipse cx="1887.1" cy="987.3" rx="3.6" ry="3.4"/>
<ellipse cx="1829.9" cy="435.7" rx="3.4" ry="3.9"/>
<ellipse cx="1899.7" cy="926.9" rx="3.3" ry="3.5"/>
<ellipse cx="1883.6" cy="695.6" rx="3.4" ry="3.3"/>
<ellipse cx="1878.2" cy="610.5" rx="3.2" ry="3.8"/>
<ellipse cx="1884.3" cy="434.9" rx="3.4" ry="3.4"/>
<ellipse cx="1957.4" cy="812.1" rx="3.6" ry="4.1"/>
<ellipse cx="1853.1" cy="928.0" rx="3.6" ry="3.8"/>
<ellipse cx="1850.0" cy="669.2" rx="3.2" ry="3.8"/>
<ellipse cx="1911.9" cy="485.1" rx="3.6" ry="4.0"/>
<ellipse cx="1899.4" cy="965.1" rx="3.1" ry="3.4"/>
<ellipse cx="1840.2" cy="481.4" rx="3.4" ry="3.4"/>
<ellipse cx="1966.2" cy="682.2" rx="3.1" ry="3.5"/>
<ellipse cx="1952.1" cy="429.1" rx="3.2" ry="3.5"/>
<ellipse cx="1855.0" cy="912.8" rx="3.7" ry="4.3"/>
<ellipse cx="1951.3" cy="842.1" rx="3.1" ry="3.5"/>
<ellipse cx="1877.0" cy="390.6" rx="3.3" ry="3.4"/>
<ellipse cx="1863.8" cy="773.8" rx="3.4" ry="3.4"/>
<ellipse cx="1855.0" cy="891.3" rx="3.3" ry="3.2"/>
<ellipse cx="1867.6" cy="949.4" rx="3.1" ry="2.9"/>
<ellipse cx="1958.9" cy="438.1" rx="3.1" ry="3.1"/>
<ellipse cx="1943.2" cy="543.7" rx="3.1" ry="3.7"/>
<ellipse cx="1964.3" cy="428.1" rx="3.3" ry="3.8"/>
<ellipse cx="1872.4" cy="706.4" rx="3.3" ry="3.3"/>
<ellipse cx="1964.6" cy="907.4" rx="3.2" ry="3.8"/>
<ellipse cx="1886.5" cy="544.4" rx="3.2" ry="3.7"/>
<ellipse cx="1964.4" cy="751.3" rx="3.6" ry="4.3"/>
<ellipse cx="1882.9" cy="969.5" rx="3.5" ry="3.5"/>
<ellipse cx="1958.1" cy="597.4" rx="3.1" ry="3.4"/>
<ellipse cx="1912.0" cy="924.4" rx="3.5" ry="3.7"/>
<ellipse cx="1853.9" cy="389.0" rx="3.6" ry="4.1"/>
<ellipse cx="1910.2" cy="957.3" rx="3.4" ry="3.3"/>
<ellipse cx="1885.3" cy="396.3" rx="3.5" ry="3.8"/>
<ellipse cx="1948.6" cy="986.9" rx="3.6" ry="3.9"/>
<ellipse cx="1831.2" cy="762.9" rx="3.4" ry="3.8"/>
<ellipse cx="1906.4" cy="942.7" rx="3.5" ry="4.0"/>
<ellipse cx="1852.6" cy="455.4" rx="3.6" ry="3.9"/>
<ellipse cx="1883.8" cy="730.7" rx="3.6" ry="4.0"/>
<ellipse cx="1857.4" cy="854.5" rx="3.2" ry="3.4"/>
<ellipse cx="1836.0" cy="805.4" rx="3.7" ry="4.4"/>
<ellipse cx="1925.9" cy="632.7" rx="3.1" ry="3.3"/>
<ellipse cx="1831.6" cy="699.5" rx="3.3" ry="3.5"/>
<ellipse cx="1907.9" cy="724.0" rx="3.4" ry="3.9"/>
<ellipse cx="1946.1" cy="806.2" rx="3.5" ry="3.6"/>
<ellipse cx="1847.2" cy="730.5" rx="3.5" ry="3.6"/>
<ellipse cx="1824.9" cy="945.2" rx="3.2" ry="3.8"/>
<ellipse cx="1833.7" cy="585.4" rx="3.5" ry="3.5"/>
<ellipse cx="1901.9" cy="453.1" rx="3.7" ry="4.4"/>
<ellipse cx="1907.6" cy="623.1" rx="3.4" ry="3.7"/>
<ellipse cx="1905.8" cy="541.0" rx="3.3" ry="3.7"/>
<ellipse cx="1947.1" cy="484.6" rx="3.2" ry="3.7"/>
<ellipse cx="1966.1" cy="714.5" rx="3.6" ry="3.4"/>
<ellipse cx="1833.1" cy="870.4" rx="3.6" ry="3.7"/>
<ellipse cx="1895.2" cy="689.9" rx="3.5" ry="3.7"/>
<ellipse cx="1947.6" cy="795.5" rx="3.4" ry="3.9"/>
<ellipse cx="1852.7" cy="793.9" rx="3.5" ry="3.9"/>
<ellipse cx="1966.6" cy="483.6" rx="3.5" ry="4.1"/>
<ellipse cx="1835.1" cy="793.8" rx="3.3" ry="3.5"/>
<ellipse cx="1918.8" cy="456.6" rx="3.4" ry="3.4"/>
<ellipse cx="1838.3" cy="820.0" rx="3.6" ry="3.9"/>
<ellipse cx="1907.5" cy="695.2" rx="3.1" ry="3.5"/>
<ellipse cx="1932.5" cy="907.8" rx="3.1" ry="3.0"/>
<ellipse cx="1883.2" cy="836.5" rx="3.5" ry="3.9"/>
<ellipse cx="1832.4" cy="837.4" rx="3.1" ry="3.3"/>
<ellipse cx="1844.6" cy="870.2" rx="3.3" ry="3.7"/>
<ellipse cx="1860.6" cy="828.5" rx="3.5" ry="4.2"/>
<ellipse cx="1923.9" cy="721.7" rx="3.3" ry="3.6"/>
<ellipse cx="1926.7" cy="660.2" rx="3.1" ry="3.0"/>
<ellipse cx="1832.8" cy="961.7" rx="3.4" ry="3.7"/>
<ellipse cx="1865.4" cy="746.6" rx="3.5" ry="3.5"/>
<ellipse cx="1905.0" cy="404.5" rx="3.6" ry="3.9"/>
<ellipse cx="1857.5" cy="489.7" rx="3.1" ry="3.5"/>
<ellipse cx="1922.6" cy="759.7" rx="3.6" ry="3.5"/>
<ellipse cx="1835.7" cy="849.4" rx="3.2" ry="3.3"/>
<ellipse cx="1823.5" cy="398.6" rx="3.7" ry="3.9"/>
<ellipse cx="1943.5" cy="904.7" rx="3.2" ry="3.2"/>
<ellipse cx="1938.9" cy="707.1" rx="3.3" ry="3.4"/>
<ellipse cx="1946.6" cy="517.6" rx="3.6" ry="4.2"/>
<ellipse cx="1920.5" cy="912.3" rx="3.6" ry="3.6"/>
<ellipse cx="1834.1" cy="392.7" rx="3.3" ry="3.4"/>
<ellipse cx="1874.9" cy="406.5" rx="3.7" ry="3.8"/>
<ellipse cx="1934.3" cy="391.8" rx="3.2" ry="3.4"/>
<ellipse cx="1890.5" cy="412.2" rx="3.7" ry="4.2"/>
<ellipse cx="1963.5" cy="701.2" rx="3.2" ry="3.2"/>
<ellipse cx="1939.4" cy="451.7" rx="3.5" ry="3.5"/>
<ellipse cx="1833.1" cy="612.5" rx="3.6" ry="3.9"/>
<ellipse cx="1895.3" cy="859.8" rx="3.1" ry="3.0"/>
<ellipse cx="1957.5" cy="406.8" rx="3.1" ry="3.5"/>
<ellipse cx="1849.1" cy="741.4" rx="3.3" ry="3.2"/>
<ellipse cx="1886.1" cy="932.0" rx="3.7" ry="4.4"/>
<ellipse cx="1833.1" cy="776.8" rx="3.2" ry="3.4"/>
<ellipse cx="1895.0" cy="757.9" rx="3.1" ry="3.4"/>
<ellipse cx="1830.1" cy="974.3" rx="3.5" ry="3.7"/>
<ellipse cx="1867.7" cy="642.9" rx="3.1" ry="3.6"/>
<ellipse cx="1816.0" cy="981.9" rx="3.7" ry="4.2"/>
<ellipse cx="1932.8" cy="476.9" rx="3.3" ry="4.0"/>
<ellipse cx="1930.7" cy="683.4" rx="3.3" ry="3.4"/>
<ellipse cx="1870.0" cy="880.5" rx="3.5" ry="3.9"/>
<ellipse cx="1875.1" cy="716.5" rx="3.4" ry="3.4"/>
<ellipse cx="1926.0" cy="600.9" rx="3.6" ry="3.7"/>
<ellipse cx="1875.4" cy="633.4" rx="3.6" ry="3.9"/>
<ellipse cx="1863.6" cy="616.9" rx="3.5" ry="3.5"/>
<ellipse cx="1965.3" cy="628.4" rx="3.3" ry="3.3"/>
<ellipse cx="1884.9" cy="621.1" rx="3.6" ry="4.1"/>
<ellipse cx="1859.9" cy="462.3" rx="3.3" ry="3.9"/>
<ellipse cx="1961.5" cy="849.1" rx="3.5" ry="3.7"/>
<ellipse cx="1872.3" cy="480.0" rx="3.7" ry="3.7"/>
<ellipse cx="1893.9" cy="468.6" rx="3.7" ry="4.3"/>
<ellipse cx="1906.6" cy="835.0" rx="3.3" ry="3.5"/>
<ellipse cx="1848.5" cy="630.5" rx="3.7" ry="4.1"/>
<ellipse cx="1857.1" cy="697.0" rx="3.7" ry="4.2"/>
<ellipse cx="1928.3" cy="427.6" rx="3.1" ry="3.3"/>
<ellipse cx="1905.5" cy="497.3" rx="3.6" ry="3.8"/>
<ellipse cx="1835.2" cy="667.1" rx="3.6" ry="4.2"/>
<ellipse cx="1873.0" cy="418.0" rx="3.2" ry="3.7"/>
<ellipse cx="1902.2" cy="480.6" rx="3.4" ry="3.6"/>
<ellipse cx="1944.9" cy="774.7" rx="3.1" ry="3.3"/>
<ellipse cx="1848.6" cy="776.4" rx="3.6" ry="4.1"/>
<ellipse cx="1966.2" cy="512.7" rx="3.1" ry="3.6"/>
<ellipse cx="1965.2" cy="806.0" rx="3.7" ry="3.6"/>
<ellipse cx="1942.3" cy="832.0" rx="3.3" ry="3.6"/>
<ellipse cx="1927.4" cy="450.1" rx="3.6" ry="4.3"/>
<ellipse cx="1896.6" cy="828.3" rx="3.1" ry="3.2"/>
<ellipse cx="1934.6" cy="736.6" rx="3.2" ry="3.7"/>
<ellipse cx="1934.7" cy="881.5" rx="3.5" ry="3.6"/>
<ellipse cx="1963.1" cy="836.9" rx="3.4" ry="4.0"/>
<ellipse cx="1832.2" cy="512.7" rx="3.6" ry="3.6"/>
<ellipse cx="1831.4" cy="624.0" rx="3.2" ry="3.8"/>
<ellipse cx="1938.2" cy="402.9" rx="3.3" ry="3.4"/>
<ellipse cx="1955.9" cy="924.8" rx="3.1" ry="3.6"/>
<ellipse cx="1830.0" cy="479.9" rx="3.4" ry="3.5"/>
<ellipse cx="1916.3" cy="940.6" rx="3.7" ry="4.1"/>
<ellipse cx="1921.7" cy="1009.0" rx="3.5" ry="3.6"/>
<ellipse cx="1911.1" cy="811.3" rx="3.5" ry="3.9"/>
<ellipse cx="1883.0" cy="535.1" rx="3.1" ry="3.3"/>
<ellipse cx="1965.8" cy="607.8" rx="3.7" ry="4.1"/>
<ellipse cx="1910.8" cy="591.5" rx="3.3" ry="3.9"/>
<ellipse cx="1963.9" cy="667.0" rx="3.3" ry="3.4"/>
<ellipse cx="1937.3" cy="632.5" rx="3.1" ry="3.6"/>
<ellipse cx="1923.9" cy="880.9" rx="3.4" ry="3.9"/>
<ellipse cx="1965.4" cy="780.8" rx="3.3" ry="3.8"/>
<ellipse cx="1870.2" cy="847.8" rx="3.3" ry="3.5"/>
<ellipse cx="1904.9" cy="428.5" rx="3.5" ry="4.1"/>
<ellipse cx="1947.3" cy="419.7" rx="3.6" ry="4.1"/>
<ellipse cx="1902.5" cy="605.4" rx="3.6" ry="4.1"/>
<ellipse cx="1887.3" cy="813.2" rx="3.5" ry="3.5"/>
<ellipse cx="1960.2" cy="985.1" rx="3.6" ry="3.6"/>
<ellipse cx="1954.3" cy="547.0" rx="3.4" ry="3.5"/>
<ellipse cx="1949.8" cy="650.6" rx="3.5" ry="4.1"/>
<ellipse cx="1859.7" cy="662.4" rx="3.1" ry="3.4"/>
<ellipse cx="1905.4" cy="677.0" rx="3.2" ry="3.1"/>
<ellipse cx="1838.3" cy="594.3" rx="3.7" ry="4.3"/>
<ellipse cx="1844.8" cy="567.1" rx="3.3" ry="3.6"/>
<ellipse cx="1852.8" cy="413.1" rx="3.1" ry="3.3"/>
<ellipse cx="1860.1" cy="1004.7" rx="3.2" ry="3.4"/>
<ellipse cx="1895.7" cy="538.8" rx="3.3" ry="3.5"/>
<ellipse cx="1921.0" cy="990.5" rx="3.6" ry="3.9"/>
<ellipse cx="1975.0" cy="425.3" rx="3.5" ry="3.6"/>
<ellipse cx="1874.3" cy="907.9" rx="3.4" ry="3.9"/>
<ellipse cx="1901.2" cy="898.2" rx="3.3" ry="3.8"/>
<ellipse cx="1852.5" cy="535.2" rx="3.3" ry="3.3"/>
<ellipse cx="1872.7" cy="812.5" rx="3.3" ry="3.8"/>
<ellipse cx="1858.0" cy="421.8" rx="3.6" ry="4.3"/>
<ellipse cx="1928.2" cy="708.8" rx="3.2" ry="3.4"/>
<ellipse cx="1839.8" cy="1008.3" rx="3.5" ry="4.0"/>
<ellipse cx="1965.5" cy="729.9" rx="3.6" ry="3.6"/>
<ellipse cx="1869.9" cy="782.1" rx="3.5" ry="3.5"/>
<ellipse cx="1919.9" cy="438.5" rx="3.5" ry="3.3"/>
<ellipse cx="1914.5" cy="659.8" rx="3.1" ry="3.6"/>
<ellipse cx="1844.3" cy="956.0" rx="3.2" ry="3.4"/>
<ellipse cx="1949.0" cy="785.6" rx="3.2" ry="3.2"/>
<ellipse cx="1965.1" cy="896.6" rx="3.5" ry="4.2"/>
<ellipse cx="1929.5" cy="850.1" rx="3.5" ry="3.3"/>
<ellipse cx="1945.7" cy="868.1" rx="3.6" ry="4.2"/>
<ellipse cx="1872.3" cy="727.6" rx="3.5" ry="4.2"/>
<ellipse cx="1922.5" cy="555.6" rx="3.1" ry="3.0"/>
<ellipse cx="1890.0" cy="497.6" rx="3.2" ry="3.3"/>
<ellipse cx="1935.6" cy="413.1" rx="3.4" ry="3.5"/>
<ellipse cx="1964.1" cy="873.4" rx="3.4" ry="3.7"/>
<ellipse cx="1888.0" cy="719.8" rx="3.6" ry="4.1"/>
<ellipse cx="1891.7" cy="388.3" rx="3.1" ry="3.3"/>
<ellipse cx="1945.9" cy="590.0" rx="3.7" ry="3.8"/>
<ellipse cx="1953.1" cy="446.6" rx="3.3" ry="3.2"/>
<ellipse cx="1957.6" cy="419.9" rx="3.1" ry="3.3"/>
<ellipse cx="1944.1" cy="613.9" rx="3.3" ry="3.7"/>
<ellipse cx="1944.9" cy="496.0" rx="3.3" ry="3.6"/>
<ellipse cx="1967.0" cy="994.6" rx="3.7" ry="3.9"/>
<ellipse cx="1933.8" cy="499.1" rx="3.1" ry="3.2"/>
<ellipse cx="1852.4" cy="436.5" rx="3.1" ry="3.2"/>
<ellipse cx="1829.6" cy="914.4" rx="3.4" ry="3.6"/>
<ellipse cx="1827.4" cy="408.4" rx="3.6" ry="4.2"/>
<ellipse cx="1830.5" cy="500.3" rx="3.3" ry="3.5"/>
<ellipse cx="1950.1" cy="821.0" rx="3.7" ry="4.0"/>
<ellipse cx="1932.5" cy="760.9" rx="3.5" ry="4.1"/>
<ellipse cx="1858.5" cy="402.8" rx="3.2" ry="3.7"/>
<ellipse cx="1840.9" cy="765.2" rx="3.7" ry="4.2"/>
<ellipse cx="1951.1" cy="466.8" rx="3.2" ry="3.5"/>
<ellipse cx="1880.6" cy="1008.9" rx="3.6" ry="3.6"/>
<ellipse cx="1923.3" cy="780.4" rx="3.7" ry="3.6"/>
<ellipse cx="1884.3" cy="522.2" rx="3.1" ry="3.0"/>
<ellipse cx="1933.6" cy="950.0" rx="3.2" ry="3.5"/>
<ellipse cx="1912.0" cy="758.8" rx="3.4" ry="3.6"/>
<ellipse cx="1843.3" cy="388.3" rx="3.1" ry="3.2"/>
<ellipse cx="1981.5" cy="399.7" rx="3.6" ry="3.5"/>
<ellipse cx="1888.3" cy="881.5" rx="3.7" ry="4.2"/>
<ellipse cx="1884.3" cy="777.8" rx="3.5" ry="3.4"/>
<ellipse cx="1967.0" cy="499.1" rx="3.1" ry="3.3"/>
<ellipse cx="1893.0" cy="458.6" rx="3.5" ry="4.2"/>
<ellipse cx="1843.2" cy="517.7" rx="3.6" ry="4.3"/>
<ellipse cx="1873.0" cy="866.4" rx="3.3" ry="3.6"/>
<ellipse cx="1880.4" cy="553.1" rx="3.5" ry="3.5"/>
<ellipse cx="1833.8" cy="860.1" rx="3.1" ry="3.3"/>
<ellipse cx="1851.2" cy="982.8" rx="3.3" ry="3.9"/>
<ellipse cx="1896.5" cy="564.5" rx="3.1" ry="3.5"/>
<ellipse cx="1915.7" cy="497.0" rx="3.7" ry="3.8"/>
<ellipse cx="1821.4" cy="954.6" rx="3.6" ry="3.4"/>
<ellipse cx="1966.1" cy="618.6" rx="3.3" ry="3.6"/>
<ellipse cx="1893.5" cy="908.4" rx="3.5" ry="3.9"/>
<ellipse cx="1861.1" cy="974.7" rx="3.6" ry="3.8"/>
<ellipse cx="1891.7" cy="428.1" rx="3.2" ry="3.6"/>
<ellipse cx="1921.4" cy="679.6" rx="3.7" ry="3.8"/>
<ellipse cx="1957.0" cy="486.4" rx="3.1" ry="3.1"/>
<ellipse cx="1923.3" cy="921.9" rx="3.2" ry="3.5"/>
<ellipse cx="1858.3" cy="549.9" rx="3.4" ry="3.5"/>
<ellipse cx="1966.7" cy="645.9" rx="3.6" ry="4.2"/>
<ellipse cx="1831.0" cy="727.9" rx="3.1" ry="3.0"/>
<ellipse cx="1931.5" cy="509.3" rx="3.3" ry="3.7"/>
<ellipse cx="1835.9" cy="708.6" rx="3.3" ry="3.4"/>
<ellipse cx="1901.5" cy="1000.1" rx="3.4" ry="3.8"/>
<ellipse cx="1936.2" cy="648.5" rx="3.6" ry="4.2"/>
<ellipse cx="1876.1" cy="829.5" rx="3.3" ry="3.4"/>
<ellipse cx="1943.6" cy="995.5" rx="3.2" ry="3.6"/>
<ellipse cx="1829.6" cy="454.0" rx="3.1" ry="3.0"/>
<ellipse cx="1852.5" cy="938.0" rx="3.2" ry="3.8"/>
<ellipse cx="1966.4" cy="770.0" rx="3.2" ry="3.8"/>
</g>
<path d="M1829 549 L1860 562 L1885 572 L1920 577 L1968 579" fill="none" stroke="#040404" stroke-width="22" stroke-linecap="round" stroke-linejoin="round" filter="url(#b4)" opacity="0.85"/>
</g>
</g>
<g fill="none" stroke="#ff0000" stroke-width="8.2">
<path d="M1266.2 773.7 L1285.1 773.4 M1296.1 777.5 L1310.7 790.3 M1316.6 801.0 L1320.1 820.8 M1318.2 833.1 L1309.0 850.6 M1300.2 858.7 L1282.5 865.9 M1270.9 866.0 L1253.1 859.4 M1244.1 851.5 L1234.5 834.1 M1232.3 821.9 L1235.4 802.0 M1241.1 791.2 L1255.4 778.1"/>
<path d="M1376.6 610.9 L1395.5 610.6 M1406.5 614.7 L1421.1 627.5 M1427.0 638.2 L1430.5 658.0 M1428.6 670.3 L1419.4 687.8 M1410.6 695.9 L1392.9 703.1 M1381.3 703.2 L1363.5 696.6 M1354.5 688.7 L1344.9 671.3 M1342.7 659.1 L1345.8 639.2 M1351.5 628.4 L1365.8 615.3"/>
<path d="M1940.3 122.7 L1959.2 122.4 M1970.2 126.5 L1984.8 139.3 M1990.7 150.0 L1994.2 169.8 M1992.3 182.1 L1983.1 199.6 M1974.3 207.7 L1956.6 214.9 M1945.0 215.0 L1927.2 208.4 M1918.2 200.5 L1908.6 183.1 M1906.4 170.9 L1909.5 151.0 M1915.2 140.2 L1929.5 127.1"/>
</g>
<line x1="1317.1" y1="844.5" x2="1526.7" y2="964.3" stroke="#ff0000" stroke-width="10.0"/><path d="M1557.6 982.0 L1521.5 972.6 L1531.1 955.6 Z" fill="#ff0000" stroke="#ff0000" stroke-width="7.0" stroke-linejoin="round"/>
<line x1="1385.6" y1="606.3" x2="687.1" y2="384.9" stroke="#ff0000" stroke-width="10.0"/><path d="M653.2 374.2 L690.5 375.7 L684.6 394.3 Z" fill="#ff0000" stroke="#ff0000" stroke-width="7.0" stroke-linejoin="round"/>
<line x1="1942.9" y1="215.7" x2="1916.1" y2="325.4" stroke="#ff0000" stroke-width="10.0"/><path d="M1907.7 359.9 L1906.8 322.6 L1925.7 327.2 Z" fill="#ff0000" stroke="#ff0000" stroke-width="7.0" stroke-linejoin="round"/>
<g font-size="62.5" font-weight="bold" fill="#000" text-anchor="end">
<text x="247.4" y="1522.6">0</text>
<text x="247.4" y="1340.6">20</text>
<text x="247.4" y="1158.6">40</text>
<text x="247.4" y="976.6">60</text>
<text x="247.4" y="794.6">80</text>
<text x="247.4" y="612.6">100</text>
<text x="247.4" y="430.6">120</text>
<text x="247.4" y="248.6">140</text>
<text x="247.4" y="66.6">160</text>
</g>
<g font-size="62.5" font-weight="bold" fill="#000" text-anchor="middle">
<text x="278.2" y="1585.3">0.00</text>
<text x="639.0" y="1585.3">0.01</text>
<text x="999.8" y="1585.3">0.02</text>
<text x="1360.6" y="1585.3">0.03</text>
<text x="1721.4" y="1585.3">0.04</text>
<text x="2082.2" y="1585.3">0.05</text>
</g>
<text x="1179.8" y="1706.1" font-size="75.6" font-weight="bold" text-anchor="middle">True strain</text>
<text transform="translate(90.6 747.9) rotate(-90)" font-size="75.9" font-weight="bold" text-anchor="middle">True stress (MPa)</text>
</svg>
</body></html>
